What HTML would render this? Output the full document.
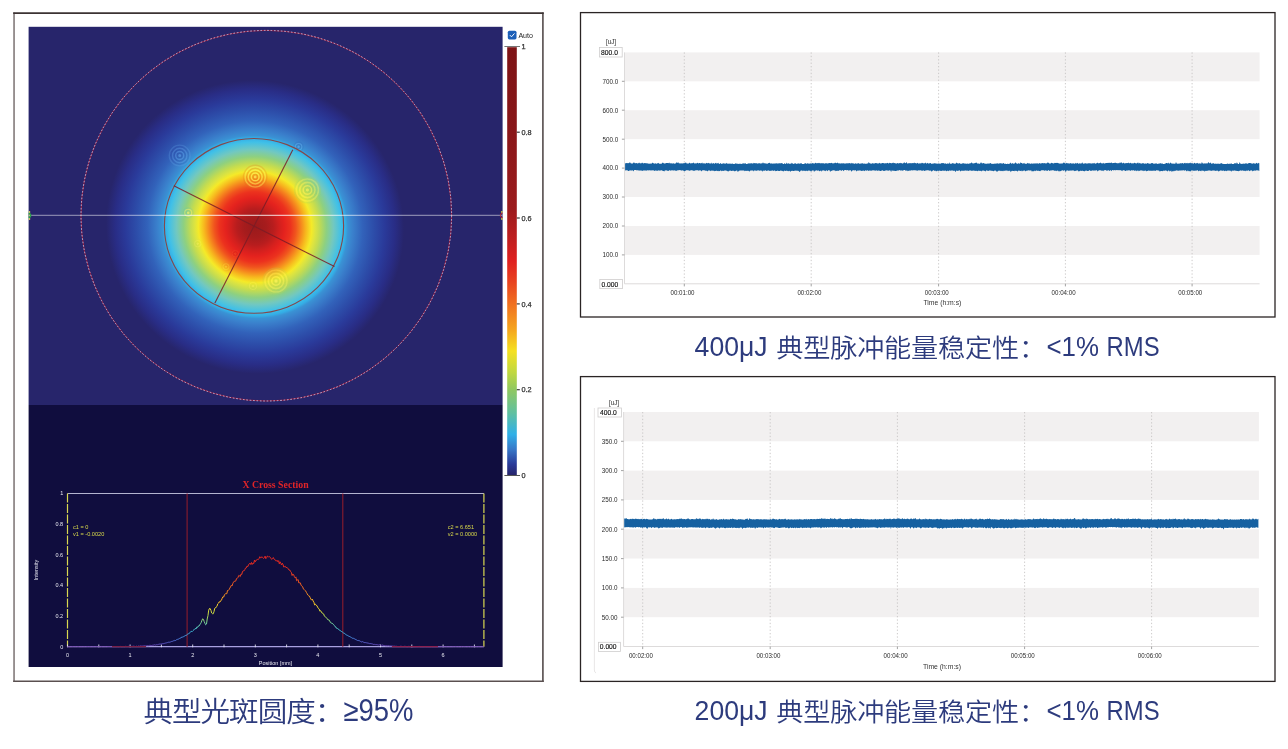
<!DOCTYPE html>
<html lang="zh"><head><meta charset="utf-8"><title>Beam profile and pulse energy stability</title>
<style>html,body{margin:0;padding:0;background:#fff;}body{width:1288px;height:749px;overflow:hidden;}svg{display:block;}text{font-family:"Liberation Sans","Noto Sans CJK SC",sans-serif;}.cap{fill:#2d3b7d;}.cjk{font-family:"Noto Sans CJK SC","Liberation Sans",sans-serif;font-weight:350;}.tk{font-size:6.3px;fill:#2a2a2a;}.tkw{font-size:5.5px;fill:#e8e8f0;}.yl{font-size:5.6px;fill:#d8d84a;}</style></head><body>
<svg width="1288" height="749" viewBox="0 0 1288 749">
<defs>
<radialGradient id="heat" gradientUnits="userSpaceOnUse" cx="255" cy="227" r="165.0" gradientTransform="translate(255 227) rotate(26.7) scale(1.025 1.0) rotate(-26.7) translate(-255 -227)">
<stop offset="0.0000" stop-color="#9a1a1c"/>
<stop offset="0.0667" stop-color="#a61c1d"/>
<stop offset="0.1091" stop-color="#b81d1e"/>
<stop offset="0.1455" stop-color="#d2201e"/>
<stop offset="0.1758" stop-color="#e4221e"/>
<stop offset="0.2121" stop-color="#ec321e"/>
<stop offset="0.2424" stop-color="#f0541e"/>
<stop offset="0.2727" stop-color="#f5841e"/>
<stop offset="0.3030" stop-color="#f7b81e"/>
<stop offset="0.3364" stop-color="#f5ea28"/>
<stop offset="0.3576" stop-color="#dde440"/>
<stop offset="0.3818" stop-color="#c4dc50"/>
<stop offset="0.4242" stop-color="#8ed080"/>
<stop offset="0.4667" stop-color="#72c8c0"/>
<stop offset="0.5121" stop-color="#40c0e8"/>
<stop offset="0.5364" stop-color="#34aee6"/>
<stop offset="0.5515" stop-color="#3a92d4"/>
<stop offset="0.5818" stop-color="#3a80cc"/>
<stop offset="0.6400" stop-color="#3262ba"/>
<stop offset="0.7030" stop-color="#2d4eaa"/>
<stop offset="0.7697" stop-color="#2a3a9a"/>
<stop offset="0.8303" stop-color="#292d86"/>
<stop offset="0.8848" stop-color="#27256b"/>
</radialGradient>
<linearGradient id="cbar" x1="0" y1="0" x2="0" y2="1">
<stop offset="0.0000" stop-color="#7d1315"/>
<stop offset="0.2000" stop-color="#891719"/>
<stop offset="0.3800" stop-color="#9c1b1d"/>
<stop offset="0.4500" stop-color="#c01f20"/>
<stop offset="0.5000" stop-color="#e02020"/>
<stop offset="0.5500" stop-color="#e84420"/>
<stop offset="0.6000" stop-color="#f07020"/>
<stop offset="0.6600" stop-color="#f5a51e"/>
<stop offset="0.7100" stop-color="#f5e020"/>
<stop offset="0.7600" stop-color="#c0d840"/>
<stop offset="0.8000" stop-color="#90c860"/>
<stop offset="0.8550" stop-color="#60c0a0"/>
<stop offset="0.9050" stop-color="#30b0e8"/>
<stop offset="0.9400" stop-color="#3878c8"/>
<stop offset="0.9750" stop-color="#2a3a98"/>
<stop offset="1.0000" stop-color="#27256b"/>
</linearGradient>
<linearGradient id="cv" gradientUnits="userSpaceOnUse" x1="0" y1="646.7" x2="0" y2="493.5">
<stop offset="0.0000" stop-color="#6a3aa0"/>
<stop offset="0.0200" stop-color="#5a50c0"/>
<stop offset="0.0500" stop-color="#4a78d8"/>
<stop offset="0.1000" stop-color="#40c0e0"/>
<stop offset="0.1500" stop-color="#70d0a0"/>
<stop offset="0.2000" stop-color="#b0d850"/>
<stop offset="0.2500" stop-color="#f0e030"/>
<stop offset="0.3200" stop-color="#f5a020"/>
<stop offset="0.4000" stop-color="#f06020"/>
<stop offset="0.5000" stop-color="#e83020"/>
<stop offset="0.6000" stop-color="#e02420"/>
<stop offset="1.0000" stop-color="#b01818"/>
</linearGradient>
<linearGradient id="hl" gradientUnits="userSpaceOnUse" x1="28.6" y1="0" x2="502.6" y2="0"><stop offset="0" stop-color="#fff" stop-opacity="0.42"/><stop offset="0.24" stop-color="#fff" stop-opacity="0.45"/><stop offset="0.36" stop-color="#fff" stop-opacity="0.68"/><stop offset="0.6" stop-color="#fff" stop-opacity="0.68"/><stop offset="0.72" stop-color="#fff" stop-opacity="0.45"/><stop offset="1" stop-color="#fff" stop-opacity="0.42"/></linearGradient>
<clipPath id="hm"><rect x="28.6" y="26.8" width="474" height="378.2"/></clipPath>
</defs>
<rect x="13.9" y="13.2" width="529.2" height="668" fill="#fff"/>
<line x1="14.05" y1="12.4" x2="14.05" y2="682" stroke="#8a8282" stroke-width="1.7"/>
<line x1="542.9" y1="12.4" x2="542.9" y2="682" stroke="#5e5656" stroke-width="1.7"/>
<line x1="13.2" y1="13.15" x2="543.75" y2="13.15" stroke="#3c3333" stroke-width="1.7"/>
<line x1="13.2" y1="681.2" x2="543.75" y2="681.2" stroke="#5a5050" stroke-width="1.5"/>
<rect x="28.6" y="26.8" width="474" height="378.2" fill="#27256b"/>
<g clip-path="url(#hm)">
<rect x="60" y="30" width="400" height="375" fill="url(#heat)"/>
<circle cx="255.2" cy="176.9" r="1.6" fill="#f08020" fill-opacity="0.8"/>
<circle cx="255.2" cy="176.9" r="0.78" fill="none" stroke="#fff05a" stroke-opacity="0.75" stroke-width="1.5"/>
<circle cx="255.2" cy="176.9" r="2.33" fill="none" stroke="#e8701a" stroke-opacity="0.42" stroke-width="1.5"/>
<circle cx="255.2" cy="176.9" r="3.88" fill="none" stroke="#fff05a" stroke-opacity="0.65" stroke-width="1.5"/>
<circle cx="255.2" cy="176.9" r="5.42" fill="none" stroke="#e8701a" stroke-opacity="0.36" stroke-width="1.5"/>
<circle cx="255.2" cy="176.9" r="6.98" fill="none" stroke="#fff05a" stroke-opacity="0.54" stroke-width="1.5"/>
<circle cx="255.2" cy="176.9" r="8.53" fill="none" stroke="#e8701a" stroke-opacity="0.30" stroke-width="1.5"/>
<circle cx="255.2" cy="176.9" r="10.08" fill="none" stroke="#fff05a" stroke-opacity="0.44" stroke-width="1.5"/>
<circle cx="255.2" cy="176.9" r="11.62" fill="none" stroke="#e8701a" stroke-opacity="0.23" stroke-width="1.5"/>
<circle cx="307.4" cy="190" r="2" fill="#a8d860" fill-opacity="0.7"/>
<circle cx="307.4" cy="190" r="0.85" fill="none" stroke="#f8f25a" stroke-opacity="0.70" stroke-width="1.6"/>
<circle cx="307.4" cy="190" r="2.55" fill="none" stroke="#a8d860" stroke-opacity="0.42" stroke-width="1.6"/>
<circle cx="307.4" cy="190" r="4.25" fill="none" stroke="#f8f25a" stroke-opacity="0.60" stroke-width="1.6"/>
<circle cx="307.4" cy="190" r="5.95" fill="none" stroke="#a8d860" stroke-opacity="0.36" stroke-width="1.6"/>
<circle cx="307.4" cy="190" r="7.65" fill="none" stroke="#f8f25a" stroke-opacity="0.51" stroke-width="1.6"/>
<circle cx="307.4" cy="190" r="9.35" fill="none" stroke="#a8d860" stroke-opacity="0.30" stroke-width="1.6"/>
<circle cx="307.4" cy="190" r="11.05" fill="none" stroke="#f8f25a" stroke-opacity="0.41" stroke-width="1.6"/>
<circle cx="307.4" cy="190" r="12.75" fill="none" stroke="#a8d860" stroke-opacity="0.23" stroke-width="1.6"/>
<circle cx="179.7" cy="155.5" r="0.80" fill="none" stroke="#6aa6ec" stroke-opacity="0.45" stroke-width="1.4"/>
<circle cx="179.7" cy="155.5" r="2.40" fill="none" stroke="#2c3c98" stroke-opacity="0.23" stroke-width="1.4"/>
<circle cx="179.7" cy="155.5" r="4.00" fill="none" stroke="#6aa6ec" stroke-opacity="0.38" stroke-width="1.4"/>
<circle cx="179.7" cy="155.5" r="5.60" fill="none" stroke="#2c3c98" stroke-opacity="0.19" stroke-width="1.4"/>
<circle cx="179.7" cy="155.5" r="7.20" fill="none" stroke="#6aa6ec" stroke-opacity="0.31" stroke-width="1.4"/>
<circle cx="179.7" cy="155.5" r="8.80" fill="none" stroke="#2c3c98" stroke-opacity="0.15" stroke-width="1.4"/>
<circle cx="179.7" cy="155.5" r="10.40" fill="none" stroke="#6aa6ec" stroke-opacity="0.24" stroke-width="1.4"/>
<circle cx="188.2" cy="212.8" r="0.70" fill="none" stroke="#f6f27a" stroke-opacity="0.60" stroke-width="1.2"/>
<circle cx="188.2" cy="212.8" r="2.10" fill="none" stroke="#50c0d0" stroke-opacity="0.26" stroke-width="1.2"/>
<circle cx="188.2" cy="212.8" r="3.50" fill="none" stroke="#f6f27a" stroke-opacity="0.43" stroke-width="1.2"/>
<circle cx="188.2" cy="212.8" r="4.90" fill="none" stroke="#50c0d0" stroke-opacity="0.18" stroke-width="1.2"/>
<circle cx="276" cy="281" r="2" fill="#e8e850" fill-opacity="0.6"/>
<circle cx="276" cy="281" r="0.85" fill="none" stroke="#faf25a" stroke-opacity="0.65" stroke-width="1.6"/>
<circle cx="276" cy="281" r="2.55" fill="none" stroke="#c0d850" stroke-opacity="0.37" stroke-width="1.6"/>
<circle cx="276" cy="281" r="4.25" fill="none" stroke="#faf25a" stroke-opacity="0.56" stroke-width="1.6"/>
<circle cx="276" cy="281" r="5.95" fill="none" stroke="#c0d850" stroke-opacity="0.32" stroke-width="1.6"/>
<circle cx="276" cy="281" r="7.65" fill="none" stroke="#faf25a" stroke-opacity="0.47" stroke-width="1.6"/>
<circle cx="276" cy="281" r="9.35" fill="none" stroke="#c0d850" stroke-opacity="0.26" stroke-width="1.6"/>
<circle cx="276" cy="281" r="11.05" fill="none" stroke="#faf25a" stroke-opacity="0.38" stroke-width="1.6"/>
<circle cx="276" cy="281" r="12.75" fill="none" stroke="#c0d850" stroke-opacity="0.21" stroke-width="1.6"/>
<circle cx="298.6" cy="146.7" r="0.65" fill="none" stroke="#78b8f4" stroke-opacity="0.45" stroke-width="1.1"/>
<circle cx="298.6" cy="146.7" r="1.95" fill="none" stroke="#2c50a8" stroke-opacity="0.22" stroke-width="1.1"/>
<circle cx="298.6" cy="146.7" r="3.25" fill="none" stroke="#78b8f4" stroke-opacity="0.33" stroke-width="1.1"/>
<circle cx="298.6" cy="146.7" r="4.55" fill="none" stroke="#2c50a8" stroke-opacity="0.15" stroke-width="1.1"/>
<circle cx="253" cy="286" r="0.70" fill="none" stroke="#f8f060" stroke-opacity="0.40" stroke-width="1.1"/>
<circle cx="253" cy="286" r="2.10" fill="none" stroke="#c8dc50" stroke-opacity="0.17" stroke-width="1.1"/>
<circle cx="253" cy="286" r="3.50" fill="none" stroke="#f8f060" stroke-opacity="0.29" stroke-width="1.1"/>
<circle cx="253" cy="286" r="4.90" fill="none" stroke="#c8dc50" stroke-opacity="0.12" stroke-width="1.1"/>
<circle cx="226" cy="266.7" r="0.60" fill="none" stroke="#f8e040" stroke-opacity="0.40" stroke-width="1"/>
<circle cx="226" cy="266.7" r="1.80" fill="none" stroke="#f08020" stroke-opacity="0.17" stroke-width="1"/>
<circle cx="226" cy="266.7" r="3.00" fill="none" stroke="#f8e040" stroke-opacity="0.29" stroke-width="1"/>
<circle cx="226" cy="266.7" r="4.20" fill="none" stroke="#f08020" stroke-opacity="0.12" stroke-width="1"/>
<circle cx="235.3" cy="253.7" r="0.65" fill="none" stroke="#f86030" stroke-opacity="0.35" stroke-width="1"/>
<circle cx="235.3" cy="253.7" r="1.95" fill="none" stroke="#c01e1e" stroke-opacity="0.16" stroke-width="1"/>
<circle cx="235.3" cy="253.7" r="3.25" fill="none" stroke="#f86030" stroke-opacity="0.22" stroke-width="1"/>
<circle cx="197.7" cy="243.7" r="0.65" fill="none" stroke="#f8f070" stroke-opacity="0.35" stroke-width="1"/>
<circle cx="197.7" cy="243.7" r="1.95" fill="none" stroke="#c8dc50" stroke-opacity="0.17" stroke-width="1"/>
<circle cx="197.7" cy="243.7" r="3.25" fill="none" stroke="#f8f070" stroke-opacity="0.25" stroke-width="1"/>
<circle cx="197.7" cy="243.7" r="4.55" fill="none" stroke="#c8dc50" stroke-opacity="0.12" stroke-width="1"/>
<circle cx="266.3" cy="215.7" r="185.3" fill="none" stroke="#a01a3a" stroke-width="1" stroke-opacity="0.9"/>
<circle cx="266.3" cy="215.7" r="185.3" fill="none" stroke="#c4ccf0" stroke-width="1" stroke-opacity="0.85" stroke-dasharray="1.6 1.8"/>
<ellipse cx="254" cy="225.9" rx="89.6" ry="87.4" fill="none" stroke="#84484c" stroke-width="1.1"/>
<line x1="292.8" y1="149.7" x2="214.9" y2="303" stroke="#7a1c26" stroke-opacity="0.85" stroke-width="1.1"/>
<line x1="173.8" y1="185.8" x2="334.5" y2="266.6" stroke="#7a1c26" stroke-opacity="0.85" stroke-width="1.1"/>
<line x1="28.6" y1="215.4" x2="502.6" y2="215.4" stroke="url(#hl)" stroke-width="1.2"/>
<circle cx="29.3" cy="211.9" r="1" fill="#d8d060"/>
<circle cx="29.3" cy="218.9" r="1" fill="#d8d060"/>
<circle cx="28.6" cy="215.4" r="2.7" fill="#2aa04a"/>
<circle cx="29" cy="215.4" r="0.9" fill="#f0b0a0"/>
<circle cx="502" cy="211.9" r="0.9" fill="#f0e840"/>
<circle cx="502" cy="218.9" r="0.9" fill="#f0e840"/>
<circle cx="502.8" cy="215.4" r="2.4" fill="none" stroke="#c02030" stroke-width="1"/>
</g>
<rect x="28.6" y="405" width="474" height="262" fill="#100d3e"/>
<rect x="507.8" y="30.7" width="8.7" height="8.7" rx="1.6" fill="#1c5fb8"/>
<path d="M509.9 35.1 L511.5 36.8 L514.5 33.4" fill="none" stroke="#fff" stroke-width="0.95"/>
<text x="518.4" y="38.1" font-size="7.1px" fill="#222">Auto</text>
<rect x="507.2" y="47.2" width="9.6" height="427.8" fill="url(#cbar)"/>
<line x1="504.4" y1="46.5" x2="520" y2="46.5" stroke="#777" stroke-width="1"/>
<line x1="504.4" y1="475.5" x2="520" y2="475.5" stroke="#555" stroke-width="1"/>
<text x="521.4" y="49.1" font-size="7.3px" fill="#333" stroke="#333" stroke-width="0.25">1</text>
<line x1="516.8" y1="132.2" x2="519.8" y2="132.2" stroke="#3a3a3a" stroke-width="1.2"/>
<text x="521.4" y="134.9" font-size="7.3px" fill="#333" stroke="#333" stroke-width="0.25">0.8</text>
<line x1="516.8" y1="218.0" x2="519.8" y2="218.0" stroke="#3a3a3a" stroke-width="1.2"/>
<text x="521.4" y="220.7" font-size="7.3px" fill="#333" stroke="#333" stroke-width="0.25">0.6</text>
<line x1="516.8" y1="303.9" x2="519.8" y2="303.9" stroke="#3a3a3a" stroke-width="1.2"/>
<text x="521.4" y="306.6" font-size="7.3px" fill="#333" stroke="#333" stroke-width="0.25">0.4</text>
<line x1="516.8" y1="389.7" x2="519.8" y2="389.7" stroke="#3a3a3a" stroke-width="1.2"/>
<text x="521.4" y="392.4" font-size="7.3px" fill="#333" stroke="#333" stroke-width="0.25">0.2</text>
<text x="521.4" y="478.2" font-size="7.3px" fill="#333" stroke="#333" stroke-width="0.25">0</text>
<text x="275.5" y="488" text-anchor="middle" font-family="'Liberation Serif',serif" style="font-family:'Liberation Serif',serif" font-weight="bold" font-size="9.8px" fill="#e02428">X Cross Section</text>
<line x1="67.5" y1="493.5" x2="483.9" y2="493.5" stroke="#b4b4d0" stroke-width="1"/>
<line x1="67.5" y1="646.7" x2="483.9" y2="646.7" stroke="#a8a0e0" stroke-width="1.3"/>
<line x1="67.5" y1="493.5" x2="67.5" y2="646.7" stroke="#d8d850" stroke-width="1.2" stroke-dasharray="9 1.5"/>
<line x1="483.9" y1="493.5" x2="483.9" y2="646.7" stroke="#d8d850" stroke-width="1.2" stroke-dasharray="9 1.5"/>
<line x1="67.5" y1="644.5" x2="67.5" y2="647.3000000000001" stroke="#e0e0f0" stroke-width="0.9"/>
<text class="tkw" x="67.5" y="656.9" text-anchor="middle">0</text>
<line x1="98.8" y1="644.5" x2="98.8" y2="647.3000000000001" stroke="#e0e0f0" stroke-width="0.9"/>
<line x1="130.1" y1="644.5" x2="130.1" y2="647.3000000000001" stroke="#e0e0f0" stroke-width="0.9"/>
<text class="tkw" x="130.1" y="656.9" text-anchor="middle">1</text>
<line x1="161.4" y1="644.5" x2="161.4" y2="647.3000000000001" stroke="#e0e0f0" stroke-width="0.9"/>
<line x1="192.7" y1="644.5" x2="192.7" y2="647.3000000000001" stroke="#e0e0f0" stroke-width="0.9"/>
<text class="tkw" x="192.7" y="656.9" text-anchor="middle">2</text>
<line x1="224.0" y1="644.5" x2="224.0" y2="647.3000000000001" stroke="#e0e0f0" stroke-width="0.9"/>
<line x1="255.3" y1="644.5" x2="255.3" y2="647.3000000000001" stroke="#e0e0f0" stroke-width="0.9"/>
<text class="tkw" x="255.3" y="656.9" text-anchor="middle">3</text>
<line x1="286.6" y1="644.5" x2="286.6" y2="647.3000000000001" stroke="#e0e0f0" stroke-width="0.9"/>
<line x1="317.9" y1="644.5" x2="317.9" y2="647.3000000000001" stroke="#e0e0f0" stroke-width="0.9"/>
<text class="tkw" x="317.9" y="656.9" text-anchor="middle">4</text>
<line x1="349.2" y1="644.5" x2="349.2" y2="647.3000000000001" stroke="#e0e0f0" stroke-width="0.9"/>
<line x1="380.5" y1="644.5" x2="380.5" y2="647.3000000000001" stroke="#e0e0f0" stroke-width="0.9"/>
<text class="tkw" x="380.5" y="656.9" text-anchor="middle">5</text>
<line x1="411.8" y1="644.5" x2="411.8" y2="647.3000000000001" stroke="#e0e0f0" stroke-width="0.9"/>
<line x1="443.1" y1="644.5" x2="443.1" y2="647.3000000000001" stroke="#e0e0f0" stroke-width="0.9"/>
<text class="tkw" x="443.1" y="656.9" text-anchor="middle">6</text>
<line x1="474.4" y1="644.5" x2="474.4" y2="647.3000000000001" stroke="#e0e0f0" stroke-width="0.9"/>
<text class="tkw" x="63.2" y="648.6" text-anchor="end">0</text>
<text class="tkw" x="63.2" y="618.0" text-anchor="end">0.2</text>
<text class="tkw" x="63.2" y="587.3" text-anchor="end">0.4</text>
<text class="tkw" x="63.2" y="556.7" text-anchor="end">0.6</text>
<text class="tkw" x="63.2" y="526.0" text-anchor="end">0.8</text>
<text class="tkw" x="63.2" y="495.4" text-anchor="end">1</text>
<text class="tkw" x="275.5" y="664.5" text-anchor="middle">Position [mm]</text>
<text class="tkw" transform="translate(37.5,570) rotate(-90)" text-anchor="middle">Intensity</text>
<line x1="187.1" y1="493.5" x2="187.1" y2="646.7" stroke="#8c1c2c" stroke-width="1.1"/>
<line x1="342.8" y1="493.5" x2="342.8" y2="646.7" stroke="#8c1c2c" stroke-width="1.1"/>
<text class="yl" x="73" y="528.8">c1 = 0</text>
<text class="yl" x="73" y="535.6">v1 = -0.0020</text>
<text class="yl" x="447.8" y="528.8">c2 = 6.651</text>
<text class="yl" x="447.8" y="535.6">v2 = 0.0000</text>
<path d="M67.5 646.7 L68.3 646.6 L69.0 646.7 L69.8 646.7 L70.5 646.7 L71.3 646.7 L72.0 646.6 L72.8 646.6 L73.5 646.6 L74.3 646.7 L75.0 646.6 L75.8 646.7 L76.5 646.7 L77.3 646.6 L78.0 646.6 L78.8 646.6 L79.5 646.7 L80.3 646.7 L81.0 646.7 L81.8 646.7 L82.5 646.7 L83.3 646.7 L84.0 646.6 L84.8 646.7 L85.5 646.7 L86.3 646.6 L87.0 646.7 L87.8 646.5 L88.5 646.6 L89.3 646.5 L90.0 646.7 L90.8 646.7 L91.5 646.7 L92.3 646.7 L93.0 646.6 L93.8 646.7 L94.5 646.7 L95.3 646.7 L96.0 646.7 L96.8 646.5 L97.5 646.7 L98.3 646.7 L99.1 646.6 L99.8 646.7 L100.6 646.7 L101.3 646.5 L102.1 646.7 L102.8 646.7 L103.6 646.7 L104.3 646.7 L105.1 646.6 L105.8 646.7 L106.6 646.7 L107.3 646.6 L108.1 646.6 L108.8 646.5 L109.6 646.5 L110.3 646.6 L111.1 646.6 L111.8 646.7 L112.6 646.6 L113.3 646.7 L114.1 646.7 L114.8 646.7 L115.6 646.7 L116.3 646.7 L117.1 646.5 L117.8 646.7 L118.6 646.7 L119.3 646.6 L120.1 646.4 L120.8 646.5 L121.6 646.7 L122.3 646.7 L123.1 646.5 L123.8 646.7 L124.6 646.7 L125.3 646.4 L126.1 646.4 L126.8 646.5 L127.6 646.5 L128.3 646.4 L129.1 646.3 L129.8 646.4 L130.6 646.4 L131.4 646.4 L132.1 646.6 L132.9 646.2 L133.6 646.2 L134.4 646.3 L135.1 646.6 L135.9 646.4 L136.6 646.2 L137.4 646.5 L138.1 646.2 L138.9 646.0 L139.6 646.3 L140.4 645.9 L141.1 646.0 L141.9 646.1 L142.6 646.0 L143.4 645.9 L144.1 645.9 L144.9 645.7 L145.6 645.9 L146.4 645.8 L147.1 645.6 L147.9 645.7 L148.6 645.7 L149.4 645.4 L150.1 645.3 L150.9 645.5 L151.6 645.5 L152.4 645.3 L153.1 645.2 L153.9 645.1 L154.6 644.8 L155.4 645.1 L156.1 644.6 L156.9 644.9 L157.6 644.7 L158.4 644.4 L159.1 644.2 L159.9 644.1 L160.6 644.1 L161.4 644.0 L162.2 643.8 L162.9 643.6 L163.7 643.6 L164.4 643.4 L165.2 643.1 L165.9 643.1 L166.7 642.8 L167.4 642.6 L168.2 642.2 L168.9 642.3 L169.7 642.2 L170.4 642.0 L171.2 641.7 L171.9 641.3 L172.7 641.3 L173.4 640.9 L174.2 640.3 L174.9 640.9 L175.7 640.4 L176.4 639.8 L177.2 639.5 L177.9 639.2 L178.7 639.0 L179.4 638.5 L180.2 638.2 L180.9 638.0 L181.7 637.0 L182.4 637.1 L183.2 636.9 L183.9 636.4 L184.7 636.0 L185.4 635.5 L186.2 635.7 L186.9 634.8 L187.7 633.9 L188.4 634.0 L189.2 633.2 L189.9 632.5 L190.7 632.0 L191.4 631.3 L192.2 631.6 L193.0 630.7 L193.7 630.1 L194.5 629.2 L195.2 628.5 L196.0 629.0 L196.7 627.2 L197.5 627.4 L198.2 626.1 L199.0 626.1 L199.7 624.9 L200.5 623.7 L201.2 622.5 L202.0 620.2 L202.7 618.8 L203.5 619.5 L204.2 621.6 L205.0 623.4 L205.7 624.8 L206.5 624.0 L207.2 619.0 L208.0 615.5 L208.7 610.2 L209.5 608.5 L210.2 608.6 L211.0 610.5 L211.7 613.0 L212.5 613.7 L213.2 613.8 L214.0 611.6 L214.7 608.4 L215.5 607.9 L216.2 607.0 L217.0 606.3 L217.7 603.9 L218.5 603.2 L219.2 601.8 L220.0 602.1 L220.7 600.6 L221.5 600.2 L222.2 598.1 L223.0 596.6 L223.7 597.1 L224.5 594.6 L225.3 593.9 L226.0 593.6 L226.8 593.7 L227.5 590.5 L228.3 590.4 L229.0 589.7 L229.8 588.1 L230.5 587.0 L231.3 585.3 L232.0 586.0 L232.8 583.5 L233.5 582.2 L234.3 581.2 L235.0 581.4 L235.8 580.9 L236.5 578.6 L237.3 578.3 L238.0 577.4 L238.8 575.4 L239.5 575.8 L240.3 576.5 L241.0 574.1 L241.8 574.4 L242.5 571.4 L243.3 570.9 L244.0 570.9 L244.8 569.6 L245.5 568.1 L246.3 567.9 L247.0 566.1 L247.8 566.6 L248.5 564.9 L249.3 563.8 L250.0 563.1 L250.8 564.5 L251.5 562.5 L252.3 564.4 L253.0 563.1 L253.8 563.4 L254.5 560.1 L255.3 561.8 L256.1 560.2 L256.8 559.9 L257.6 559.4 L258.3 559.6 L259.1 558.4 L259.8 556.7 L260.6 558.1 L261.3 557.4 L262.1 556.7 L262.8 557.7 L263.6 558.5 L264.3 557.8 L265.1 556.1 L265.8 558.7 L266.6 557.7 L267.3 556.1 L268.1 556.4 L268.8 557.2 L269.6 556.6 L270.3 557.3 L271.1 558.8 L271.8 559.4 L272.6 558.7 L273.3 557.5 L274.1 559.2 L274.8 559.8 L275.6 560.1 L276.3 561.2 L277.1 560.3 L277.8 561.7 L278.6 560.7 L279.3 563.8 L280.1 561.8 L280.8 563.3 L281.6 565.0 L282.3 563.2 L283.1 564.7 L283.8 567.1 L284.6 566.6 L285.3 566.3 L286.1 567.7 L286.9 567.3 L287.6 568.1 L288.4 569.0 L289.1 570.1 L289.9 570.1 L290.6 571.5 L291.4 572.5 L292.1 575.5 L292.9 574.0 L293.6 574.6 L294.4 576.7 L295.1 577.8 L295.9 576.9 L296.6 580.7 L297.4 580.0 L298.1 579.5 L298.9 583.0 L299.6 582.8 L300.4 582.9 L301.1 585.4 L301.9 585.9 L302.6 586.7 L303.4 588.9 L304.1 589.4 L304.9 590.2 L305.6 590.9 L306.4 592.4 L307.1 593.6 L307.9 595.1 L308.6 595.7 L309.4 596.0 L310.1 597.5 L310.9 599.1 L311.6 600.1 L312.4 599.1 L313.1 601.0 L313.9 602.2 L314.6 604.9 L315.4 604.2 L316.1 605.3 L316.9 605.6 L317.6 607.2 L318.4 608.4 L319.2 609.1 L319.9 611.2 L320.7 610.7 L321.4 611.9 L322.2 613.3 L322.9 613.3 L323.7 614.0 L324.4 616.2 L325.2 616.7 L325.9 617.2 L326.7 618.0 L327.4 619.1 L328.2 620.1 L328.9 619.7 L329.7 620.9 L330.4 622.5 L331.2 623.2 L331.9 622.9 L332.7 623.9 L333.4 624.3 L334.2 625.3 L334.9 626.5 L335.7 626.8 L336.4 628.2 L337.2 628.4 L337.9 628.8 L338.7 629.3 L339.4 630.2 L340.2 630.6 L340.9 631.0 L341.7 631.6 L342.4 632.0 L343.2 632.7 L343.9 633.3 L344.7 633.5 L345.4 634.2 L346.2 634.8 L346.9 635.2 L347.7 635.5 L348.4 636.0 L349.2 636.3 L350.0 636.8 L350.7 637.1 L351.5 637.6 L352.2 638.2 L353.0 638.2 L353.7 638.4 L354.5 638.8 L355.2 639.3 L356.0 639.5 L356.7 640.0 L357.5 640.5 L358.2 640.4 L359.0 640.9 L359.7 640.8 L360.5 641.4 L361.2 641.9 L362.0 641.9 L362.7 641.6 L363.5 642.2 L364.2 642.5 L365.0 642.6 L365.7 642.6 L366.5 642.8 L367.2 643.0 L368.0 643.0 L368.7 643.3 L369.5 643.6 L370.2 643.6 L371.0 643.6 L371.7 643.8 L372.5 644.0 L373.2 644.4 L374.0 644.4 L374.7 644.4 L375.5 644.6 L376.2 644.6 L377.0 644.7 L377.7 644.8 L378.5 645.0 L379.2 644.7 L380.0 645.0 L380.8 645.3 L381.5 645.3 L382.3 645.0 L383.0 645.5 L383.8 645.4 L384.5 645.5 L385.3 645.7 L386.0 645.9 L386.8 645.7 L387.5 645.8 L388.3 645.7 L389.0 645.8 L389.8 646.0 L390.5 645.9 L391.3 646.0 L392.0 646.1 L392.8 646.1 L393.5 646.2 L394.3 646.1 L395.0 646.4 L395.8 646.3 L396.5 646.3 L397.3 646.5 L398.0 646.4 L398.8 646.6 L399.5 646.5 L400.3 646.3 L401.0 646.3 L401.8 646.4 L402.5 646.5 L403.3 646.6 L404.0 646.2 L404.8 646.4 L405.5 646.4 L406.3 646.6 L407.0 646.6 L407.8 646.7 L408.5 646.4 L409.3 646.4 L410.0 646.7 L410.8 646.6 L411.5 646.5 L412.3 646.7 L413.1 646.7 L413.8 646.7 L414.6 646.7 L415.3 646.7 L416.1 646.6 L416.8 646.6 L417.6 646.6 L418.3 646.5 L419.1 646.4 L419.8 646.5 L420.6 646.7 L421.3 646.7 L422.1 646.7 L422.8 646.7 L423.6 646.7 L424.3 646.7 L425.1 646.6 L425.8 646.7 L426.6 646.7 L427.3 646.7 L428.1 646.7 L428.8 646.7 L429.6 646.7 L430.3 646.7 L431.1 646.6 L431.8 646.6 L432.6 646.7 L433.3 646.7 L434.1 646.7 L434.8 646.7 L435.6 646.7 L436.3 646.7 L437.1 646.7 L437.8 646.7 L438.6 646.7 L439.3 646.7 L440.1 646.7 L440.8 646.7 L441.6 646.6 L442.3 646.6 L443.1 646.7 L443.9 646.7 L444.6 646.7 L445.4 646.7 L446.1 646.6 L446.9 646.7 L447.6 646.7 L448.4 646.7 L449.1 646.7 L449.9 646.7 L450.6 646.7 L451.4 646.7 L452.1 646.7 L452.9 646.7 L453.6 646.6 L454.4 646.7 L455.1 646.4 L455.9 646.7 L456.6 646.6 L457.4 646.7 L458.1 646.6 L458.9 646.7 L459.6 646.7 L460.4 646.7 L461.1 646.6 L461.9 646.4 L462.6 646.7 L463.4 646.5 L464.1 646.6 L464.9 646.6 L465.6 646.6 L466.4 646.7 L467.1 646.6 L467.9 646.7 L468.6 646.5 L469.4 646.7 L470.1 646.7 L470.9 646.4 L471.6 646.7 L472.4 646.7 L473.1 646.6 L473.9 646.7 L474.7 646.7 L475.4 646.7 L476.2 646.6 L476.9 646.6 L477.7 646.7 L478.4 646.5 L479.2 646.5 L479.9 646.7 L480.7 646.7 L481.4 646.7 L482.2 646.5 L482.9 646.7 L483.7 646.6" fill="none" stroke="url(#cv)" stroke-width="1" stroke-linejoin="round"/>
<line x1="112" y1="646.7" x2="146" y2="646.7" stroke="#7a2048" stroke-width="1.2"/>
<line x1="392" y1="646.7" x2="438" y2="646.7" stroke="#8a2050" stroke-width="1.2"/>
<text class="cap cjk" transform="translate(0,721.6) scale(1,0.945)" x="143.4" y="0" font-size="29.6px" textLength="201" lengthAdjust="spacing">典型光斑圆度：</text>
<text class="cap" x="343.4" y="720.6" font-size="31.2px" textLength="70" lengthAdjust="spacingAndGlyphs">≥95%</text>
<text class="cap" x="694.6" y="356.0" font-size="28.2px" textLength="73" lengthAdjust="spacingAndGlyphs">400μJ</text>
<text class="cap cjk" transform="translate(0,357.2) scale(1,0.94)" x="776.2" y="0" font-size="27.2px" textLength="270" lengthAdjust="spacing">典型脉冲能量稳定性：</text>
<text class="cap" x="1046.4" y="356.0" font-size="28.2px" textLength="52.5" lengthAdjust="spacingAndGlyphs">&lt;1%</text>
<text class="cap" x="1106.6" y="356.0" font-size="28.2px" textLength="53" lengthAdjust="spacingAndGlyphs">RMS</text>
<text class="cap" x="694.6" y="719.8" font-size="28.2px" textLength="73" lengthAdjust="spacingAndGlyphs">200μJ</text>
<text class="cap cjk" transform="translate(0,721.0) scale(1,0.94)" x="776.2" y="0" font-size="27.2px" textLength="270" lengthAdjust="spacing">典型脉冲能量稳定性：</text>
<text class="cap" x="1046.4" y="719.8" font-size="28.2px" textLength="52.5" lengthAdjust="spacingAndGlyphs">&lt;1%</text>
<text class="cap" x="1106.6" y="719.8" font-size="28.2px" textLength="53" lengthAdjust="spacingAndGlyphs">RMS</text>
<rect x="580.5" y="12.6" width="694.5" height="304.4" fill="#fff" stroke="#2a2424" stroke-width="1.3"/>
<rect x="624.5" y="52.40" width="635.0999999999999" height="28.93" fill="#f2f0f0"/>
<rect x="624.5" y="110.25" width="635.0999999999999" height="28.93" fill="#f2f0f0"/>
<rect x="624.5" y="168.10" width="635.0999999999999" height="28.93" fill="#f2f0f0"/>
<rect x="624.5" y="225.95" width="635.0999999999999" height="28.93" fill="#f2f0f0"/>
<line x1="624.5" y1="52.4" x2="624.5" y2="283.8" stroke="#dddbdb" stroke-width="1"/>
<line x1="624.5" y1="283.8" x2="1259.6" y2="283.8" stroke="#dddbdb" stroke-width="1"/>
<line x1="684.3" y1="52.4" x2="684.3" y2="283.8" stroke="#c6c4c4" stroke-width="0.9" stroke-dasharray="1.3 2.1"/>
<line x1="684.3" y1="283.8" x2="684.3" y2="286.40000000000003" stroke="#999" stroke-width="0.9"/>
<line x1="811.2" y1="52.4" x2="811.2" y2="283.8" stroke="#c6c4c4" stroke-width="0.9" stroke-dasharray="1.3 2.1"/>
<line x1="811.2" y1="283.8" x2="811.2" y2="286.40000000000003" stroke="#999" stroke-width="0.9"/>
<line x1="938.6" y1="52.4" x2="938.6" y2="283.8" stroke="#c6c4c4" stroke-width="0.9" stroke-dasharray="1.3 2.1"/>
<line x1="938.6" y1="283.8" x2="938.6" y2="286.40000000000003" stroke="#999" stroke-width="0.9"/>
<line x1="1065.4" y1="52.4" x2="1065.4" y2="283.8" stroke="#c6c4c4" stroke-width="0.9" stroke-dasharray="1.3 2.1"/>
<line x1="1065.4" y1="283.8" x2="1065.4" y2="286.40000000000003" stroke="#999" stroke-width="0.9"/>
<line x1="1192.1" y1="52.4" x2="1192.1" y2="283.8" stroke="#c6c4c4" stroke-width="0.9" stroke-dasharray="1.3 2.1"/>
<line x1="1192.1" y1="283.8" x2="1192.1" y2="286.40000000000003" stroke="#999" stroke-width="0.9"/>
<text class="tk" x="682.5" y="294.8" text-anchor="middle" textLength="24" lengthAdjust="spacingAndGlyphs" style="font-size:6.6px">00:01:00</text>
<text class="tk" x="809.4" y="294.8" text-anchor="middle" textLength="24" lengthAdjust="spacingAndGlyphs" style="font-size:6.6px">00:02:00</text>
<text class="tk" x="936.8" y="294.8" text-anchor="middle" textLength="24" lengthAdjust="spacingAndGlyphs" style="font-size:6.6px">00:03:00</text>
<text class="tk" x="1063.6" y="294.8" text-anchor="middle" textLength="24" lengthAdjust="spacingAndGlyphs" style="font-size:6.6px">00:04:00</text>
<text class="tk" x="1190.3" y="294.8" text-anchor="middle" textLength="24" lengthAdjust="spacingAndGlyphs" style="font-size:6.6px">00:05:00</text>
<line x1="621.9" y1="81.3" x2="624.5" y2="81.3" stroke="#999" stroke-width="0.9"/>
<text class="tk" x="618.3" y="83.6" text-anchor="end">700.0</text>
<line x1="621.9" y1="110.2" x2="624.5" y2="110.2" stroke="#999" stroke-width="0.9"/>
<text class="tk" x="618.3" y="112.5" text-anchor="end">600.0</text>
<line x1="621.9" y1="139.2" x2="624.5" y2="139.2" stroke="#999" stroke-width="0.9"/>
<text class="tk" x="618.3" y="141.5" text-anchor="end">500.0</text>
<line x1="621.9" y1="168.1" x2="624.5" y2="168.1" stroke="#999" stroke-width="0.9"/>
<text class="tk" x="618.3" y="170.4" text-anchor="end">400.0</text>
<line x1="621.9" y1="197.0" x2="624.5" y2="197.0" stroke="#999" stroke-width="0.9"/>
<text class="tk" x="618.3" y="199.3" text-anchor="end">300.0</text>
<line x1="621.9" y1="226.0" x2="624.5" y2="226.0" stroke="#999" stroke-width="0.9"/>
<text class="tk" x="618.3" y="228.3" text-anchor="end">200.0</text>
<line x1="621.9" y1="254.9" x2="624.5" y2="254.9" stroke="#999" stroke-width="0.9"/>
<text class="tk" x="618.3" y="257.2" text-anchor="end">100.0</text>
<rect x="599.4" y="47.4" width="22.800000000000068" height="9.600000000000001" fill="#fff" stroke="#cfcdcd" stroke-width="0.8"/>
<text x="609.5" y="54.7" text-anchor="middle" font-size="7.1px" textLength="16.8" lengthAdjust="spacingAndGlyphs" fill="#111" stroke="#111" stroke-width="0.15">800.0</text>
<rect x="599.8" y="279.5" width="22.700000000000045" height="9.100000000000023" fill="#fff" stroke="#cfcdcd" stroke-width="0.8"/>
<text x="609.9" y="286.6" text-anchor="middle" font-size="7.1px" textLength="16.8" lengthAdjust="spacingAndGlyphs" fill="#111" stroke="#111" stroke-width="0.15">0.000</text>
<text class="tk" x="611" y="43.6" text-anchor="middle">[uJ]</text>
<text x="942.4" y="305.4" text-anchor="middle" font-size="6.8px" fill="#333">Time (h:m:s)</text>
<path d="M625.1 163.26 L625.8 163.13 L626.5 163.08 L627.2 163.14 L627.9 162.88 L628.6 163.23 L629.3 162.87 L630.0 162.35 L630.7 163.20 L631.4 163.47 L632.1 163.50 L632.8 163.38 L633.5 162.43 L634.2 162.56 L634.9 163.37 L635.6 163.18 L636.3 163.05 L637.0 163.27 L637.7 163.58 L638.4 163.35 L639.1 162.59 L639.8 163.19 L640.5 163.55 L641.2 162.72 L641.9 163.49 L642.6 162.60 L643.3 163.52 L644.0 163.33 L644.7 162.94 L645.4 163.14 L646.1 163.01 L646.8 163.55 L647.5 163.34 L648.2 163.66 L648.9 163.57 L649.6 163.63 L650.3 163.45 L651.0 163.78 L651.7 163.43 L652.4 162.50 L653.1 163.24 L653.8 163.37 L654.5 163.67 L655.2 163.13 L655.9 163.61 L656.6 163.68 L657.3 163.47 L658.0 162.72 L658.7 163.32 L659.4 163.75 L660.1 163.64 L660.8 163.71 L661.5 163.78 L662.2 162.90 L662.9 162.44 L663.6 163.34 L664.3 163.41 L665.0 163.58 L665.7 163.21 L666.4 162.88 L667.1 163.04 L667.8 163.04 L668.5 163.36 L669.2 162.39 L669.9 163.53 L670.6 163.17 L671.3 163.18 L672.0 163.50 L672.7 163.51 L673.4 163.31 L674.1 163.49 L674.8 163.69 L675.5 163.39 L676.2 162.67 L676.9 162.32 L677.6 162.89 L678.3 162.37 L679.0 163.41 L679.7 163.26 L680.4 163.58 L681.1 163.22 L681.8 163.59 L682.5 163.40 L683.2 163.11 L683.9 163.50 L684.6 163.08 L685.3 162.79 L686.0 162.61 L686.7 163.55 L687.4 163.50 L688.1 163.61 L688.8 163.50 L689.5 162.62 L690.2 163.53 L690.9 163.19 L691.6 163.25 L692.3 163.32 L693.0 163.01 L693.7 162.48 L694.4 163.39 L695.1 163.41 L695.8 163.36 L696.5 163.61 L697.2 162.73 L697.9 163.11 L698.6 163.58 L699.3 162.98 L700.0 163.05 L700.7 163.61 L701.4 162.71 L702.1 163.65 L702.8 162.50 L703.5 163.42 L704.2 163.47 L704.9 163.35 L705.6 163.70 L706.3 162.73 L707.0 163.35 L707.7 163.31 L708.4 162.76 L709.1 163.42 L709.8 163.13 L710.5 163.69 L711.2 162.51 L711.9 163.85 L712.6 163.62 L713.3 163.11 L714.0 163.60 L714.7 163.73 L715.4 162.97 L716.1 162.86 L716.8 163.71 L717.5 163.33 L718.2 162.79 L718.9 163.76 L719.6 163.89 L720.3 163.08 L721.0 163.58 L721.7 163.96 L722.4 163.50 L723.1 163.79 L723.8 163.04 L724.5 163.85 L725.2 163.26 L725.9 163.99 L726.6 162.73 L727.3 163.72 L728.0 163.44 L728.7 163.86 L729.4 163.72 L730.1 163.32 L730.8 163.92 L731.5 163.81 L732.2 163.43 L732.9 163.78 L733.6 163.93 L734.3 163.96 L735.0 163.82 L735.7 163.35 L736.4 163.50 L737.1 163.98 L737.8 163.51 L738.5 164.00 L739.2 163.65 L739.9 163.72 L740.6 163.70 L741.3 163.99 L742.0 163.65 L742.7 163.61 L743.4 163.14 L744.1 163.79 L744.8 163.20 L745.5 163.23 L746.2 163.88 L746.9 163.92 L747.6 163.75 L748.3 163.51 L749.0 163.23 L749.7 163.54 L750.4 163.62 L751.1 163.06 L751.8 163.53 L752.5 163.45 L753.2 163.60 L753.9 162.80 L754.6 163.30 L755.3 163.31 L756.0 163.22 L756.7 163.24 L757.4 163.50 L758.1 163.63 L758.8 162.97 L759.5 163.34 L760.2 163.47 L760.9 163.50 L761.6 163.41 L762.3 162.52 L763.0 163.70 L763.7 162.52 L764.4 163.49 L765.1 163.00 L765.8 163.68 L766.5 163.52 L767.2 163.65 L767.9 163.40 L768.6 162.91 L769.3 162.84 L770.0 163.12 L770.7 163.68 L771.4 163.20 L772.1 163.74 L772.8 163.39 L773.5 163.55 L774.2 163.83 L774.9 163.26 L775.6 163.42 L776.3 163.50 L777.0 163.07 L777.7 163.64 L778.4 163.57 L779.1 162.92 L779.8 163.43 L780.5 163.31 L781.2 163.28 L781.9 162.99 L782.6 163.44 L783.3 163.91 L784.0 163.90 L784.7 163.05 L785.4 163.91 L786.1 163.83 L786.8 162.61 L787.5 163.89 L788.2 163.06 L788.9 163.84 L789.6 163.67 L790.3 163.50 L791.0 163.94 L791.7 162.86 L792.4 163.29 L793.1 163.96 L793.8 163.66 L794.5 163.61 L795.2 163.32 L795.9 163.49 L796.6 163.88 L797.3 163.58 L798.0 163.85 L798.7 163.36 L799.4 163.77 L800.1 163.44 L800.8 163.29 L801.5 163.18 L802.2 163.91 L802.9 163.93 L803.6 163.88 L804.3 163.81 L805.0 163.26 L805.7 163.35 L806.4 163.75 L807.1 163.73 L807.8 162.98 L808.5 163.65 L809.2 163.41 L809.9 163.63 L810.6 163.19 L811.3 163.74 L812.0 162.93 L812.7 163.31 L813.4 163.16 L814.1 163.80 L814.8 163.29 L815.5 162.78 L816.2 162.99 L816.9 163.59 L817.6 162.90 L818.3 163.24 L819.0 162.83 L819.7 163.21 L820.4 163.16 L821.1 163.60 L821.8 162.92 L822.5 163.31 L823.2 163.49 L823.9 163.05 L824.6 163.64 L825.3 163.59 L826.0 162.84 L826.7 163.53 L827.4 163.53 L828.1 163.27 L828.8 163.29 L829.5 162.89 L830.2 163.11 L830.9 163.23 L831.6 162.63 L832.3 163.30 L833.0 163.56 L833.7 163.27 L834.4 163.31 L835.1 162.41 L835.8 162.92 L836.5 163.28 L837.2 162.71 L837.9 162.84 L838.6 163.42 L839.3 163.35 L840.0 163.47 L840.7 163.41 L841.4 163.29 L842.1 163.43 L842.8 163.25 L843.5 163.22 L844.2 163.58 L844.9 163.48 L845.6 163.59 L846.3 163.59 L847.0 163.08 L847.7 163.50 L848.4 163.28 L849.1 163.23 L849.8 163.09 L850.5 163.46 L851.2 163.48 L851.9 162.75 L852.6 163.51 L853.3 163.23 L854.0 163.66 L854.7 163.67 L855.4 163.35 L856.1 163.52 L856.8 163.70 L857.5 163.54 L858.2 162.89 L858.9 163.40 L859.6 163.63 L860.3 163.59 L861.0 163.76 L861.7 163.21 L862.4 163.37 L863.1 163.57 L863.8 163.69 L864.5 163.44 L865.2 163.67 L865.9 163.64 L866.6 163.63 L867.3 163.29 L868.0 163.80 L868.7 161.88 L869.4 163.04 L870.1 163.40 L870.8 163.51 L871.5 163.66 L872.2 163.29 L872.9 163.18 L873.6 163.59 L874.3 163.39 L875.0 163.15 L875.7 162.96 L876.4 163.37 L877.1 163.12 L877.8 163.73 L878.5 163.54 L879.2 162.85 L879.9 163.32 L880.6 163.41 L881.3 163.51 L882.0 163.07 L882.7 163.12 L883.4 163.09 L884.1 163.56 L884.8 163.36 L885.5 163.21 L886.2 163.26 L886.9 163.14 L887.6 162.79 L888.3 163.53 L889.0 163.31 L889.7 162.69 L890.4 163.07 L891.1 163.37 L891.8 163.14 L892.5 163.11 L893.2 162.53 L893.9 163.29 L894.6 163.08 L895.3 163.30 L896.0 163.39 L896.7 163.43 L897.4 163.05 L898.1 163.19 L898.8 163.51 L899.5 163.01 L900.2 163.13 L900.9 162.77 L901.6 163.13 L902.3 163.41 L903.0 163.54 L903.7 162.78 L904.4 162.20 L905.1 163.37 L905.8 163.06 L906.5 161.98 L907.2 163.40 L907.9 163.42 L908.6 163.23 L909.3 162.98 L910.0 163.43 L910.7 163.03 L911.4 163.15 L912.1 163.15 L912.8 162.93 L913.5 163.26 L914.2 162.51 L914.9 163.25 L915.6 162.94 L916.3 163.41 L917.0 163.37 L917.7 162.71 L918.4 163.68 L919.1 163.29 L919.8 163.41 L920.5 163.53 L921.2 162.80 L921.9 163.56 L922.6 162.80 L923.3 163.33 L924.0 163.60 L924.7 163.18 L925.4 162.62 L926.1 163.50 L926.8 163.38 L927.5 162.78 L928.2 163.45 L928.9 163.41 L929.6 163.37 L930.3 162.94 L931.0 163.31 L931.7 163.91 L932.4 163.63 L933.1 163.30 L933.8 163.70 L934.5 162.91 L935.2 163.76 L935.9 162.93 L936.6 163.68 L937.3 163.85 L938.0 163.58 L938.7 163.46 L939.4 163.79 L940.1 163.20 L940.8 163.94 L941.5 162.91 L942.2 163.12 L942.9 163.29 L943.6 162.97 L944.3 163.71 L945.0 163.19 L945.7 163.45 L946.4 163.96 L947.1 163.55 L947.8 163.59 L948.5 163.97 L949.2 162.28 L949.9 163.68 L950.6 163.64 L951.3 163.82 L952.0 163.48 L952.7 162.92 L953.4 163.60 L954.1 163.17 L954.8 163.92 L955.5 163.83 L956.2 162.58 L956.9 163.10 L957.6 163.35 L958.3 163.85 L959.0 163.01 L959.7 163.32 L960.4 163.67 L961.1 163.66 L961.8 163.69 L962.5 163.19 L963.2 163.48 L963.9 162.90 L964.6 163.77 L965.3 163.56 L966.0 163.67 L966.7 163.75 L967.4 163.44 L968.1 163.68 L968.8 163.75 L969.5 163.54 L970.2 162.90 L970.9 163.55 L971.6 162.33 L972.3 163.07 L973.0 163.72 L973.7 163.23 L974.4 163.28 L975.1 163.00 L975.8 162.86 L976.5 162.46 L977.2 163.39 L977.9 163.42 L978.6 163.45 L979.3 163.77 L980.0 163.65 L980.7 162.58 L981.4 162.56 L982.1 163.81 L982.8 163.07 L983.5 162.94 L984.2 163.52 L984.9 163.39 L985.6 163.70 L986.3 163.83 L987.0 163.85 L987.7 163.44 L988.4 163.60 L989.1 163.74 L989.8 163.13 L990.5 162.94 L991.2 163.49 L991.9 163.88 L992.6 163.82 L993.3 163.89 L994.0 163.44 L994.7 163.78 L995.4 163.79 L996.1 163.29 L996.8 163.64 L997.5 163.20 L998.2 163.52 L998.9 163.74 L999.6 163.16 L1000.3 163.31 L1001.0 163.18 L1001.7 163.56 L1002.4 163.77 L1003.1 163.09 L1003.8 163.26 L1004.5 163.89 L1005.2 163.51 L1005.9 164.04 L1006.6 164.05 L1007.3 163.85 L1008.0 163.83 L1008.7 163.90 L1009.4 163.78 L1010.1 163.17 L1010.8 162.57 L1011.5 163.88 L1012.2 163.28 L1012.9 163.15 L1013.6 163.82 L1014.3 163.87 L1015.0 162.82 L1015.7 162.49 L1016.4 163.23 L1017.1 163.89 L1017.8 163.59 L1018.5 163.36 L1019.2 163.60 L1019.9 163.64 L1020.6 162.31 L1021.3 163.08 L1022.0 162.96 L1022.7 163.87 L1023.4 163.62 L1024.1 162.85 L1024.8 163.68 L1025.5 163.81 L1026.2 163.85 L1026.9 163.72 L1027.6 162.86 L1028.3 163.87 L1029.0 162.74 L1029.7 163.75 L1030.4 163.66 L1031.1 163.69 L1031.8 163.18 L1032.5 163.79 L1033.2 163.57 L1033.9 163.40 L1034.6 163.40 L1035.3 163.20 L1036.0 163.64 L1036.7 163.23 L1037.4 163.37 L1038.1 163.70 L1038.8 163.38 L1039.5 163.00 L1040.2 163.44 L1040.9 163.55 L1041.6 163.16 L1042.3 162.91 L1043.0 163.14 L1043.7 163.23 L1044.4 162.92 L1045.1 163.51 L1045.8 163.35 L1046.5 163.55 L1047.2 162.74 L1047.9 162.61 L1048.6 162.76 L1049.3 163.38 L1050.0 163.56 L1050.7 163.62 L1051.4 162.75 L1052.1 162.94 L1052.8 163.19 L1053.5 163.52 L1054.2 163.28 L1054.9 162.83 L1055.6 162.92 L1056.3 163.01 L1057.0 162.85 L1057.7 163.07 L1058.4 163.15 L1059.1 163.28 L1059.8 163.65 L1060.5 163.54 L1061.2 163.50 L1061.9 163.62 L1062.6 163.61 L1063.3 162.77 L1064.0 162.56 L1064.7 163.02 L1065.4 163.71 L1066.1 162.76 L1066.8 163.35 L1067.5 163.33 L1068.2 163.21 L1068.9 163.62 L1069.6 163.44 L1070.3 163.34 L1071.0 163.04 L1071.7 163.73 L1072.4 163.41 L1073.1 163.36 L1073.8 163.47 L1074.5 163.68 L1075.2 163.48 L1075.9 162.69 L1076.6 163.81 L1077.3 162.80 L1078.0 163.58 L1078.7 163.65 L1079.4 163.36 L1080.1 163.56 L1080.8 163.59 L1081.5 163.57 L1082.2 162.36 L1082.9 163.52 L1083.6 163.63 L1084.3 163.14 L1085.0 163.79 L1085.7 163.07 L1086.4 163.46 L1087.1 163.74 L1087.8 163.14 L1088.5 163.31 L1089.2 163.51 L1089.9 162.88 L1090.6 163.58 L1091.3 163.46 L1092.0 163.62 L1092.7 163.22 L1093.4 163.46 L1094.1 162.82 L1094.8 163.53 L1095.5 163.70 L1096.2 163.13 L1096.9 163.17 L1097.6 162.58 L1098.3 163.56 L1099.0 162.92 L1099.7 163.31 L1100.4 162.54 L1101.1 162.91 L1101.8 163.48 L1102.5 163.43 L1103.2 162.77 L1103.9 163.52 L1104.6 163.38 L1105.3 163.18 L1106.0 163.10 L1106.7 162.96 L1107.4 163.06 L1108.1 162.80 L1108.8 163.05 L1109.5 162.74 L1110.2 163.08 L1110.9 162.84 L1111.6 162.44 L1112.3 163.26 L1113.0 163.11 L1113.7 162.94 L1114.4 163.06 L1115.1 162.56 L1115.8 163.01 L1116.5 163.08 L1117.2 163.46 L1117.9 162.98 L1118.6 163.18 L1119.3 163.20 L1120.0 162.13 L1120.7 162.94 L1121.4 162.15 L1122.1 163.04 L1122.8 163.53 L1123.5 162.57 L1124.2 163.54 L1124.9 163.16 L1125.6 163.20 L1126.3 163.06 L1127.0 163.15 L1127.7 162.92 L1128.4 162.51 L1129.1 163.57 L1129.8 163.07 L1130.5 162.71 L1131.2 163.29 L1131.9 163.56 L1132.6 163.30 L1133.3 163.50 L1134.0 162.89 L1134.7 162.86 L1135.4 163.22 L1136.1 163.19 L1136.8 163.38 L1137.5 162.76 L1138.2 162.51 L1138.9 163.65 L1139.6 162.83 L1140.3 163.45 L1141.0 163.31 L1141.7 163.66 L1142.4 163.29 L1143.1 163.06 L1143.8 163.56 L1144.5 163.67 L1145.2 163.57 L1145.9 163.60 L1146.6 163.70 L1147.3 163.06 L1148.0 163.25 L1148.7 163.39 L1149.4 163.72 L1150.1 163.56 L1150.8 163.64 L1151.5 163.10 L1152.2 163.10 L1152.9 163.37 L1153.6 163.71 L1154.3 163.63 L1155.0 163.53 L1155.7 163.46 L1156.4 163.26 L1157.1 163.88 L1157.8 163.73 L1158.5 163.77 L1159.2 163.15 L1159.9 163.76 L1160.6 163.07 L1161.3 163.80 L1162.0 163.27 L1162.7 163.85 L1163.4 163.88 L1164.1 163.88 L1164.8 163.66 L1165.5 163.59 L1166.2 163.04 L1166.9 163.07 L1167.6 163.56 L1168.3 162.61 L1169.0 163.72 L1169.7 163.54 L1170.4 162.59 L1171.1 162.91 L1171.8 163.68 L1172.5 163.53 L1173.2 163.67 L1173.9 163.56 L1174.6 163.65 L1175.3 163.73 L1176.0 161.99 L1176.7 163.52 L1177.4 163.75 L1178.1 163.57 L1178.8 163.70 L1179.5 163.47 L1180.2 163.50 L1180.9 163.11 L1181.6 163.58 L1182.3 162.98 L1183.0 163.17 L1183.7 163.63 L1184.4 163.11 L1185.1 162.83 L1185.8 163.60 L1186.5 162.94 L1187.2 163.54 L1187.9 162.85 L1188.6 163.44 L1189.3 162.63 L1190.0 163.40 L1190.7 162.46 L1191.4 163.22 L1192.1 163.20 L1192.8 163.21 L1193.5 163.63 L1194.2 162.91 L1194.9 162.83 L1195.6 163.66 L1196.3 163.10 L1197.0 163.39 L1197.7 162.84 L1198.4 163.69 L1199.1 163.35 L1199.8 163.53 L1200.5 163.45 L1201.2 163.76 L1201.9 162.12 L1202.6 163.31 L1203.3 163.65 L1204.0 163.27 L1204.7 163.48 L1205.4 163.59 L1206.1 163.37 L1206.8 163.50 L1207.5 163.51 L1208.2 162.33 L1208.9 162.50 L1209.6 163.55 L1210.3 162.57 L1211.0 163.02 L1211.7 163.93 L1212.4 163.60 L1213.1 163.09 L1213.8 163.50 L1214.5 163.80 L1215.2 163.93 L1215.9 163.27 L1216.6 164.04 L1217.3 163.45 L1218.0 163.88 L1218.7 163.50 L1219.4 163.98 L1220.1 163.42 L1220.8 163.57 L1221.5 163.11 L1222.2 163.71 L1222.9 163.75 L1223.6 163.97 L1224.3 163.97 L1225.0 163.88 L1225.7 164.05 L1226.4 163.96 L1227.1 163.82 L1227.8 163.38 L1228.5 163.88 L1229.2 163.75 L1229.9 163.86 L1230.6 163.86 L1231.3 163.29 L1232.0 164.00 L1232.7 164.05 L1233.4 163.96 L1234.1 163.79 L1234.8 162.95 L1235.5 163.23 L1236.2 163.83 L1236.9 162.21 L1237.6 163.52 L1238.3 163.89 L1239.0 163.94 L1239.7 161.90 L1240.4 163.84 L1241.1 163.84 L1241.8 163.93 L1242.5 163.72 L1243.2 163.64 L1243.9 163.40 L1244.6 163.75 L1245.3 163.71 L1246.0 162.81 L1246.7 163.76 L1247.4 163.80 L1248.1 163.42 L1248.8 163.08 L1249.5 163.01 L1250.2 162.97 L1250.9 163.37 L1251.6 163.39 L1252.3 163.59 L1253.0 163.63 L1253.7 162.99 L1254.4 163.51 L1255.1 163.66 L1255.8 163.51 L1256.5 162.80 L1257.2 163.32 L1257.9 163.63 L1258.6 162.81 L1259.3 163.16 L1259.3 171.09 L1258.6 170.41 L1257.9 170.59 L1257.2 170.33 L1256.5 170.24 L1255.8 170.63 L1255.1 170.48 L1254.4 170.52 L1253.7 171.10 L1253.0 170.55 L1252.3 171.47 L1251.6 170.29 L1250.9 170.22 L1250.2 170.78 L1249.5 171.35 L1248.8 170.26 L1248.1 170.52 L1247.4 170.64 L1246.7 170.71 L1246.0 170.42 L1245.3 171.16 L1244.6 170.83 L1243.9 170.68 L1243.2 170.75 L1242.5 170.34 L1241.8 171.01 L1241.1 170.35 L1240.4 170.41 L1239.7 170.84 L1239.0 171.02 L1238.3 171.15 L1237.6 171.05 L1236.9 171.08 L1236.2 170.74 L1235.5 170.76 L1234.8 170.60 L1234.1 170.51 L1233.4 170.63 L1232.7 170.85 L1232.0 170.58 L1231.3 171.75 L1230.6 170.70 L1229.9 170.51 L1229.2 170.86 L1228.5 170.51 L1227.8 170.66 L1227.1 170.52 L1226.4 171.14 L1225.7 170.65 L1225.0 170.84 L1224.3 171.34 L1223.6 170.51 L1222.9 170.62 L1222.2 170.89 L1221.5 170.53 L1220.8 170.50 L1220.1 170.49 L1219.4 171.06 L1218.7 171.55 L1218.0 170.89 L1217.3 170.62 L1216.6 170.86 L1215.9 170.81 L1215.2 171.06 L1214.5 170.51 L1213.8 170.47 L1213.1 170.61 L1212.4 170.55 L1211.7 170.89 L1211.0 170.59 L1210.3 170.80 L1209.6 170.46 L1208.9 170.37 L1208.2 170.68 L1207.5 170.70 L1206.8 170.70 L1206.1 171.05 L1205.4 170.72 L1204.7 171.70 L1204.0 170.51 L1203.3 171.04 L1202.6 170.71 L1201.9 170.27 L1201.2 171.17 L1200.5 171.04 L1199.8 170.52 L1199.1 171.03 L1198.4 171.24 L1197.7 170.24 L1197.0 170.31 L1196.3 170.83 L1195.6 170.45 L1194.9 171.12 L1194.2 170.48 L1193.5 170.80 L1192.8 170.66 L1192.1 170.32 L1191.4 170.39 L1190.7 171.13 L1190.0 171.51 L1189.3 171.11 L1188.6 171.26 L1187.9 170.26 L1187.2 171.32 L1186.5 171.28 L1185.8 170.30 L1185.1 170.20 L1184.4 170.75 L1183.7 170.22 L1183.0 170.31 L1182.3 170.38 L1181.6 170.56 L1180.9 170.19 L1180.2 170.73 L1179.5 170.43 L1178.8 170.62 L1178.1 170.96 L1177.4 170.62 L1176.7 170.35 L1176.0 170.66 L1175.3 170.82 L1174.6 170.79 L1173.9 171.41 L1173.2 170.82 L1172.5 171.24 L1171.8 171.89 L1171.1 170.45 L1170.4 170.97 L1169.7 171.57 L1169.0 170.55 L1168.3 170.61 L1167.6 171.44 L1166.9 171.07 L1166.2 170.56 L1165.5 170.60 L1164.8 170.49 L1164.1 171.10 L1163.4 170.51 L1162.7 171.30 L1162.0 171.04 L1161.3 170.92 L1160.6 170.96 L1159.9 171.63 L1159.2 170.67 L1158.5 170.44 L1157.8 170.38 L1157.1 170.35 L1156.4 170.34 L1155.7 170.86 L1155.0 171.01 L1154.3 170.51 L1153.6 170.65 L1152.9 170.52 L1152.2 171.04 L1151.5 170.74 L1150.8 170.84 L1150.1 170.79 L1149.4 170.84 L1148.7 170.52 L1148.0 170.74 L1147.3 171.04 L1146.6 171.29 L1145.9 171.01 L1145.2 170.34 L1144.5 171.11 L1143.8 170.62 L1143.1 171.21 L1142.4 170.39 L1141.7 170.28 L1141.0 170.87 L1140.3 170.26 L1139.6 170.67 L1138.9 171.21 L1138.2 170.38 L1137.5 170.61 L1136.8 171.18 L1136.1 170.43 L1135.4 170.51 L1134.7 171.00 L1134.0 170.28 L1133.3 170.34 L1132.6 170.60 L1131.9 170.32 L1131.2 170.18 L1130.5 171.12 L1129.8 170.13 L1129.1 170.56 L1128.4 170.17 L1127.7 170.51 L1127.0 170.38 L1126.3 170.39 L1125.6 171.00 L1124.9 170.98 L1124.2 170.09 L1123.5 170.28 L1122.8 170.32 L1122.1 171.30 L1121.4 170.50 L1120.7 170.10 L1120.0 170.52 L1119.3 170.09 L1118.6 170.25 L1117.9 170.11 L1117.2 170.13 L1116.5 170.03 L1115.8 170.17 L1115.1 170.17 L1114.4 170.12 L1113.7 170.62 L1113.0 170.12 L1112.3 170.02 L1111.6 171.23 L1110.9 170.17 L1110.2 170.17 L1109.5 171.05 L1108.8 170.38 L1108.1 170.06 L1107.4 170.72 L1106.7 170.74 L1106.0 170.14 L1105.3 170.08 L1104.6 170.29 L1103.9 170.36 L1103.2 171.32 L1102.5 170.57 L1101.8 170.77 L1101.1 170.42 L1100.4 170.13 L1099.7 170.36 L1099.0 170.32 L1098.3 170.84 L1097.6 171.40 L1096.9 170.17 L1096.2 170.29 L1095.5 170.47 L1094.8 170.81 L1094.1 170.28 L1093.4 170.66 L1092.7 170.32 L1092.0 170.65 L1091.3 170.81 L1090.6 171.09 L1089.9 170.24 L1089.2 170.20 L1088.5 170.95 L1087.8 170.93 L1087.1 171.04 L1086.4 170.44 L1085.7 170.74 L1085.0 170.75 L1084.3 171.52 L1083.6 171.00 L1082.9 171.09 L1082.2 170.47 L1081.5 171.08 L1080.8 170.64 L1080.1 170.65 L1079.4 171.24 L1078.7 171.62 L1078.0 170.77 L1077.3 170.29 L1076.6 170.47 L1075.9 171.04 L1075.2 170.74 L1074.5 171.25 L1073.8 170.34 L1073.1 170.71 L1072.4 170.32 L1071.7 170.78 L1071.0 170.35 L1070.3 170.83 L1069.6 170.60 L1068.9 170.96 L1068.2 170.60 L1067.5 170.59 L1066.8 170.21 L1066.1 171.43 L1065.4 171.81 L1064.7 170.31 L1064.0 170.13 L1063.3 171.01 L1062.6 170.22 L1061.9 170.23 L1061.2 171.11 L1060.5 171.23 L1059.8 170.67 L1059.1 171.85 L1058.4 170.90 L1057.7 170.19 L1057.0 171.16 L1056.3 170.65 L1055.6 170.63 L1054.9 170.69 L1054.2 170.76 L1053.5 170.23 L1052.8 170.36 L1052.1 170.33 L1051.4 170.49 L1050.7 170.32 L1050.0 170.89 L1049.3 170.64 L1048.6 170.04 L1047.9 170.54 L1047.2 170.97 L1046.5 170.53 L1045.8 170.72 L1045.1 170.11 L1044.4 170.93 L1043.7 170.19 L1043.0 170.29 L1042.3 170.21 L1041.6 170.16 L1040.9 170.49 L1040.2 171.31 L1039.5 170.92 L1038.8 170.91 L1038.1 170.54 L1037.4 170.89 L1036.7 170.57 L1036.0 170.40 L1035.3 171.28 L1034.6 170.57 L1033.9 171.47 L1033.2 170.90 L1032.5 171.33 L1031.8 171.46 L1031.1 170.29 L1030.4 170.56 L1029.7 170.46 L1029.0 170.51 L1028.3 170.34 L1027.6 170.44 L1026.9 170.97 L1026.2 170.59 L1025.5 171.54 L1024.8 170.38 L1024.1 170.58 L1023.4 170.65 L1022.7 170.87 L1022.0 171.54 L1021.3 170.40 L1020.6 171.01 L1019.9 170.94 L1019.2 170.46 L1018.5 170.49 L1017.8 171.47 L1017.1 171.34 L1016.4 170.66 L1015.7 171.00 L1015.0 170.53 L1014.3 171.33 L1013.6 170.95 L1012.9 171.07 L1012.2 170.73 L1011.5 171.00 L1010.8 172.24 L1010.1 170.69 L1009.4 170.70 L1008.7 170.87 L1008.0 171.18 L1007.3 170.49 L1006.6 170.58 L1005.9 170.65 L1005.2 170.55 L1004.5 170.78 L1003.8 171.18 L1003.1 170.45 L1002.4 171.23 L1001.7 170.67 L1001.0 171.31 L1000.3 170.72 L999.6 170.64 L998.9 170.50 L998.2 170.92 L997.5 171.39 L996.8 171.81 L996.1 171.01 L995.4 170.47 L994.7 170.46 L994.0 170.92 L993.3 171.26 L992.6 170.96 L991.9 170.48 L991.2 171.09 L990.5 170.50 L989.8 170.49 L989.1 170.41 L988.4 170.97 L987.7 170.88 L987.0 170.33 L986.3 170.42 L985.6 171.43 L984.9 170.95 L984.2 170.81 L983.5 170.40 L982.8 170.80 L982.1 170.56 L981.4 171.51 L980.7 170.69 L980.0 170.90 L979.3 170.63 L978.6 170.46 L977.9 171.19 L977.2 170.93 L976.5 170.76 L975.8 170.90 L975.1 170.63 L974.4 170.64 L973.7 170.68 L973.0 170.35 L972.3 170.93 L971.6 170.82 L970.9 170.86 L970.2 170.25 L969.5 170.41 L968.8 170.74 L968.1 170.95 L967.4 170.59 L966.7 170.79 L966.0 170.49 L965.3 170.45 L964.6 170.74 L963.9 170.47 L963.2 170.89 L962.5 170.87 L961.8 170.61 L961.1 171.02 L960.4 171.47 L959.7 170.37 L959.0 170.47 L958.3 170.82 L957.6 170.89 L956.9 170.45 L956.2 170.65 L955.5 172.14 L954.8 170.54 L954.1 170.99 L953.4 170.72 L952.7 170.56 L952.0 170.59 L951.3 170.39 L950.6 170.68 L949.9 170.48 L949.2 170.39 L948.5 171.28 L947.8 170.46 L947.1 170.89 L946.4 171.15 L945.7 170.47 L945.0 170.68 L944.3 170.68 L943.6 170.64 L942.9 170.50 L942.2 170.79 L941.5 170.90 L940.8 170.74 L940.1 170.98 L939.4 170.61 L938.7 170.70 L938.0 171.18 L937.3 170.52 L936.6 171.33 L935.9 171.16 L935.2 170.43 L934.5 170.89 L933.8 170.35 L933.1 170.33 L932.4 171.07 L931.7 171.60 L931.0 171.34 L930.3 170.31 L929.6 170.73 L928.9 170.45 L928.2 170.30 L927.5 170.36 L926.8 170.25 L926.1 170.56 L925.4 170.51 L924.7 171.00 L924.0 170.80 L923.3 170.24 L922.6 170.71 L921.9 170.63 L921.2 170.57 L920.5 170.25 L919.8 170.31 L919.1 170.39 L918.4 170.21 L917.7 170.48 L917.0 171.07 L916.3 170.17 L915.6 170.20 L914.9 170.52 L914.2 170.12 L913.5 170.26 L912.8 170.44 L912.1 170.19 L911.4 170.24 L910.7 170.44 L910.0 170.66 L909.3 170.60 L908.6 170.79 L907.9 171.19 L907.2 170.54 L906.5 170.48 L905.8 170.92 L905.1 170.07 L904.4 170.02 L903.7 170.27 L903.0 170.47 L902.3 170.67 L901.6 170.36 L900.9 170.66 L900.2 170.25 L899.5 170.06 L898.8 170.47 L898.1 170.62 L897.4 170.41 L896.7 170.64 L896.0 171.00 L895.3 170.98 L894.6 170.71 L893.9 171.01 L893.2 170.43 L892.5 170.80 L891.8 170.23 L891.1 171.93 L890.4 170.62 L889.7 170.25 L889.0 170.52 L888.3 170.70 L887.6 170.39 L886.9 170.49 L886.2 170.22 L885.5 170.53 L884.8 170.93 L884.1 170.66 L883.4 171.12 L882.7 170.16 L882.0 170.41 L881.3 170.63 L880.6 171.01 L879.9 170.98 L879.2 170.56 L878.5 170.43 L877.8 170.76 L877.1 170.68 L876.4 170.29 L875.7 170.65 L875.0 170.45 L874.3 170.59 L873.6 170.29 L872.9 170.40 L872.2 170.27 L871.5 170.74 L870.8 170.63 L870.1 170.50 L869.4 170.39 L868.7 171.05 L868.0 170.41 L867.3 170.31 L866.6 170.64 L865.9 170.57 L865.2 170.30 L864.5 171.17 L863.8 170.40 L863.1 170.72 L862.4 170.68 L861.7 170.99 L861.0 170.64 L860.3 170.60 L859.6 170.19 L858.9 170.99 L858.2 170.25 L857.5 170.56 L856.8 171.55 L856.1 170.78 L855.4 170.11 L854.7 170.42 L854.0 170.37 L853.3 170.13 L852.6 170.34 L851.9 171.17 L851.2 171.57 L850.5 170.09 L849.8 170.11 L849.1 170.70 L848.4 170.53 L847.7 170.11 L847.0 170.29 L846.3 170.24 L845.6 170.03 L844.9 170.10 L844.2 170.14 L843.5 171.24 L842.8 170.00 L842.1 170.17 L841.4 171.09 L840.7 170.14 L840.0 170.24 L839.3 170.26 L838.6 170.89 L837.9 170.45 L837.2 171.00 L836.5 170.74 L835.8 171.20 L835.1 170.48 L834.4 170.42 L833.7 169.99 L833.0 170.74 L832.3 170.17 L831.6 170.91 L830.9 170.70 L830.2 171.91 L829.5 170.27 L828.8 170.04 L828.1 170.47 L827.4 171.31 L826.7 170.18 L826.0 170.45 L825.3 171.24 L824.6 170.77 L823.9 170.21 L823.2 170.49 L822.5 170.27 L821.8 171.64 L821.1 170.47 L820.4 170.85 L819.7 171.16 L819.0 170.99 L818.3 170.18 L817.6 170.82 L816.9 170.46 L816.2 170.33 L815.5 170.80 L814.8 170.64 L814.1 171.93 L813.4 170.25 L812.7 170.55 L812.0 170.47 L811.3 171.47 L810.6 171.13 L809.9 170.45 L809.2 170.78 L808.5 170.47 L807.8 170.85 L807.1 171.26 L806.4 170.44 L805.7 171.21 L805.0 170.52 L804.3 170.92 L803.6 170.44 L802.9 171.25 L802.2 170.62 L801.5 170.45 L800.8 170.62 L800.1 171.49 L799.4 171.89 L798.7 171.08 L798.0 170.65 L797.3 170.81 L796.6 170.71 L795.9 170.48 L795.2 170.72 L794.5 170.66 L793.8 171.05 L793.1 171.07 L792.4 170.77 L791.7 171.04 L791.0 170.64 L790.3 171.89 L789.6 170.66 L788.9 171.01 L788.2 171.32 L787.5 170.96 L786.8 170.49 L786.1 171.12 L785.4 171.10 L784.7 170.57 L784.0 170.88 L783.3 171.39 L782.6 170.98 L781.9 170.74 L781.2 170.84 L780.5 170.55 L779.8 171.06 L779.1 170.88 L778.4 170.97 L777.7 170.53 L777.0 171.04 L776.3 170.94 L775.6 171.23 L774.9 170.53 L774.2 170.45 L773.5 171.12 L772.8 170.53 L772.1 170.49 L771.4 170.67 L770.7 170.69 L770.0 170.91 L769.3 170.87 L768.6 170.40 L767.9 170.35 L767.2 170.95 L766.5 171.03 L765.8 170.22 L765.1 170.55 L764.4 170.86 L763.7 170.81 L763.0 170.46 L762.3 171.69 L761.6 170.53 L760.9 170.61 L760.2 170.49 L759.5 170.68 L758.8 170.59 L758.1 170.34 L757.4 170.57 L756.7 170.71 L756.0 170.70 L755.3 170.46 L754.6 170.39 L753.9 170.58 L753.2 171.44 L752.5 170.30 L751.8 170.53 L751.1 170.51 L750.4 170.56 L749.7 171.41 L749.0 171.18 L748.3 170.76 L747.6 170.63 L746.9 170.98 L746.2 170.87 L745.5 170.71 L744.8 171.27 L744.1 170.54 L743.4 170.52 L742.7 170.57 L742.0 170.60 L741.3 170.50 L740.6 170.45 L739.9 170.55 L739.2 170.79 L738.5 171.29 L737.8 171.91 L737.1 170.55 L736.4 170.54 L735.7 171.20 L735.0 170.80 L734.3 171.49 L733.6 170.70 L732.9 170.62 L732.2 170.90 L731.5 171.03 L730.8 170.63 L730.1 170.54 L729.4 170.64 L728.7 171.28 L728.0 171.49 L727.3 171.03 L726.6 170.81 L725.9 170.50 L725.2 170.52 L724.5 170.52 L723.8 170.99 L723.1 170.79 L722.4 170.74 L721.7 171.30 L721.0 170.43 L720.3 170.57 L719.6 171.18 L718.9 170.67 L718.2 171.27 L717.5 170.94 L716.8 170.83 L716.1 170.70 L715.4 170.99 L714.7 171.18 L714.0 170.63 L713.3 170.71 L712.6 170.41 L711.9 170.88 L711.2 170.28 L710.5 171.27 L709.8 170.25 L709.1 170.83 L708.4 170.35 L707.7 171.58 L707.0 170.69 L706.3 170.69 L705.6 170.68 L704.9 170.50 L704.2 170.26 L703.5 170.27 L702.8 170.14 L702.1 170.43 L701.4 171.49 L700.7 170.22 L700.0 170.38 L699.3 170.20 L698.6 170.83 L697.9 170.29 L697.2 170.33 L696.5 170.14 L695.8 170.16 L695.1 170.55 L694.4 170.78 L693.7 171.06 L693.0 170.22 L692.3 170.57 L691.6 170.19 L690.9 170.11 L690.2 170.65 L689.5 170.65 L688.8 170.38 L688.1 170.26 L687.4 170.33 L686.7 170.23 L686.0 170.34 L685.3 170.93 L684.6 171.22 L683.9 170.99 L683.2 170.49 L682.5 170.23 L681.8 170.79 L681.1 170.24 L680.4 170.25 L679.7 170.09 L679.0 170.19 L678.3 170.36 L677.6 170.31 L676.9 170.86 L676.2 170.64 L675.5 170.76 L674.8 170.37 L674.1 170.52 L673.4 170.55 L672.7 170.14 L672.0 170.62 L671.3 170.29 L670.6 170.75 L669.9 170.31 L669.2 170.19 L668.5 170.88 L667.8 170.74 L667.1 170.80 L666.4 170.29 L665.7 170.60 L665.0 170.20 L664.3 171.56 L663.6 171.11 L662.9 171.06 L662.2 170.40 L661.5 170.25 L660.8 170.36 L660.1 170.77 L659.4 170.53 L658.7 170.38 L658.0 170.35 L657.3 171.03 L656.6 170.84 L655.9 170.22 L655.2 170.66 L654.5 171.12 L653.8 170.32 L653.1 170.54 L652.4 170.29 L651.7 170.57 L651.0 170.36 L650.3 170.56 L649.6 170.33 L648.9 170.19 L648.2 170.54 L647.5 170.20 L646.8 170.19 L646.1 170.91 L645.4 170.26 L644.7 170.73 L644.0 170.12 L643.3 170.80 L642.6 170.77 L641.9 170.91 L641.2 170.33 L640.5 170.56 L639.8 170.78 L639.1 170.13 L638.4 170.53 L637.7 170.28 L637.0 170.30 L636.3 170.37 L635.6 170.01 L634.9 170.03 L634.2 170.07 L633.5 171.52 L632.8 170.29 L632.1 170.48 L631.4 170.38 L630.7 170.45 L630.0 170.23 L629.3 170.79 L628.6 171.06 L627.9 171.03 L627.2 169.99 L626.5 170.15 L625.8 170.40 L625.1 170.30Z" fill="#1661a1"/>
<rect x="580.5" y="376.6" width="694.5" height="304.79999999999995" fill="#fff" stroke="#2a2424" stroke-width="1.3"/>
<rect x="623.6" y="412.00" width="635.3000000000001" height="29.31" fill="#f2f0f0"/>
<rect x="623.6" y="470.62" width="635.3000000000001" height="29.31" fill="#f2f0f0"/>
<rect x="623.6" y="529.25" width="635.3000000000001" height="29.31" fill="#f2f0f0"/>
<rect x="623.6" y="587.88" width="635.3000000000001" height="29.31" fill="#f2f0f0"/>
<line x1="623.6" y1="412" x2="623.6" y2="646.5" stroke="#dddbdb" stroke-width="1"/>
<line x1="623.6" y1="646.5" x2="1258.9" y2="646.5" stroke="#dddbdb" stroke-width="1"/>
<line x1="642.7" y1="412" x2="642.7" y2="646.5" stroke="#c6c4c4" stroke-width="0.9" stroke-dasharray="1.3 2.1"/>
<line x1="642.7" y1="646.5" x2="642.7" y2="649.1" stroke="#999" stroke-width="0.9"/>
<line x1="770.2" y1="412" x2="770.2" y2="646.5" stroke="#c6c4c4" stroke-width="0.9" stroke-dasharray="1.3 2.1"/>
<line x1="770.2" y1="646.5" x2="770.2" y2="649.1" stroke="#999" stroke-width="0.9"/>
<line x1="897.4" y1="412" x2="897.4" y2="646.5" stroke="#c6c4c4" stroke-width="0.9" stroke-dasharray="1.3 2.1"/>
<line x1="897.4" y1="646.5" x2="897.4" y2="649.1" stroke="#999" stroke-width="0.9"/>
<line x1="1024.6" y1="412" x2="1024.6" y2="646.5" stroke="#c6c4c4" stroke-width="0.9" stroke-dasharray="1.3 2.1"/>
<line x1="1024.6" y1="646.5" x2="1024.6" y2="649.1" stroke="#999" stroke-width="0.9"/>
<line x1="1151.6" y1="412" x2="1151.6" y2="646.5" stroke="#c6c4c4" stroke-width="0.9" stroke-dasharray="1.3 2.1"/>
<line x1="1151.6" y1="646.5" x2="1151.6" y2="649.1" stroke="#999" stroke-width="0.9"/>
<text class="tk" x="640.9" y="657.5" text-anchor="middle" textLength="24" lengthAdjust="spacingAndGlyphs" style="font-size:6.6px">00:02:00</text>
<text class="tk" x="768.4" y="657.5" text-anchor="middle" textLength="24" lengthAdjust="spacingAndGlyphs" style="font-size:6.6px">00:03:00</text>
<text class="tk" x="895.6" y="657.5" text-anchor="middle" textLength="24" lengthAdjust="spacingAndGlyphs" style="font-size:6.6px">00:04:00</text>
<text class="tk" x="1022.8" y="657.5" text-anchor="middle" textLength="24" lengthAdjust="spacingAndGlyphs" style="font-size:6.6px">00:05:00</text>
<text class="tk" x="1149.8" y="657.5" text-anchor="middle" textLength="24" lengthAdjust="spacingAndGlyphs" style="font-size:6.6px">00:06:00</text>
<line x1="621.0" y1="441.3" x2="623.6" y2="441.3" stroke="#999" stroke-width="0.9"/>
<text class="tk" x="617.4" y="443.6" text-anchor="end">350.0</text>
<line x1="621.0" y1="470.6" x2="623.6" y2="470.6" stroke="#999" stroke-width="0.9"/>
<text class="tk" x="617.4" y="472.9" text-anchor="end">300.0</text>
<line x1="621.0" y1="499.9" x2="623.6" y2="499.9" stroke="#999" stroke-width="0.9"/>
<text class="tk" x="617.4" y="502.2" text-anchor="end">250.0</text>
<line x1="621.0" y1="529.2" x2="623.6" y2="529.2" stroke="#999" stroke-width="0.9"/>
<text class="tk" x="617.4" y="531.5" text-anchor="end">200.0</text>
<line x1="621.0" y1="558.6" x2="623.6" y2="558.6" stroke="#999" stroke-width="0.9"/>
<text class="tk" x="617.4" y="560.9" text-anchor="end">150.0</text>
<line x1="621.0" y1="587.9" x2="623.6" y2="587.9" stroke="#999" stroke-width="0.9"/>
<text class="tk" x="617.4" y="590.2" text-anchor="end">100.0</text>
<line x1="621.0" y1="617.2" x2="623.6" y2="617.2" stroke="#999" stroke-width="0.9"/>
<text class="tk" x="617.4" y="619.5" text-anchor="end">50.00</text>
<rect x="598" y="408" width="23.399999999999977" height="9" fill="#fff" stroke="#cfcdcd" stroke-width="0.8"/>
<text x="608.4" y="415.0" text-anchor="middle" font-size="7.1px" textLength="16.8" lengthAdjust="spacingAndGlyphs" fill="#111" stroke="#111" stroke-width="0.15">400.0</text>
<rect x="598.5" y="642.3" width="21.899999999999977" height="9.100000000000023" fill="#fff" stroke="#cfcdcd" stroke-width="0.8"/>
<text x="608.2" y="649.3" text-anchor="middle" font-size="7.1px" textLength="16.8" lengthAdjust="spacingAndGlyphs" fill="#111" stroke="#111" stroke-width="0.15">0.000</text>
<text class="tk" x="614" y="405" text-anchor="middle">[uJ]</text>
<text x="942" y="668.6" text-anchor="middle" font-size="6.8px" fill="#333">Time (h:m:s)</text>
<path d="M594.4 408 L594.4 670 Q594.4 672.5 596 673" fill="none" stroke="#e2e0e0" stroke-width="0.8"/>
<path d="M624.2 518.29 L624.9 518.71 L625.6 518.44 L626.3 518.12 L627.0 518.96 L627.7 519.12 L628.4 519.33 L629.1 519.33 L629.8 519.29 L630.5 518.83 L631.2 519.28 L631.9 518.77 L632.6 518.72 L633.3 519.08 L634.0 518.81 L634.7 519.16 L635.4 518.45 L636.1 518.96 L636.8 518.74 L637.5 519.01 L638.2 519.30 L638.9 518.69 L639.6 519.24 L640.3 519.15 L641.0 518.70 L641.7 519.04 L642.4 519.40 L643.1 519.04 L643.8 519.07 L644.5 518.86 L645.2 519.30 L645.9 519.20 L646.6 518.63 L647.3 518.99 L648.0 519.35 L648.7 519.41 L649.4 519.38 L650.1 519.49 L650.8 519.55 L651.5 519.40 L652.2 519.39 L652.9 519.02 L653.6 518.14 L654.3 518.45 L655.0 519.41 L655.7 518.74 L656.4 519.55 L657.1 519.19 L657.8 518.75 L658.5 519.12 L659.2 518.63 L659.9 518.89 L660.6 518.79 L661.3 519.25 L662.0 518.42 L662.7 519.01 L663.4 518.02 L664.1 519.21 L664.8 519.35 L665.5 519.14 L666.2 518.51 L666.9 518.87 L667.6 519.44 L668.3 518.50 L669.0 519.28 L669.7 519.47 L670.4 519.42 L671.1 518.82 L671.8 519.01 L672.5 519.42 L673.2 519.45 L673.9 519.19 L674.6 519.29 L675.3 519.35 L676.0 519.39 L676.7 518.99 L677.4 519.12 L678.1 519.26 L678.8 519.03 L679.5 518.83 L680.2 518.38 L680.9 519.12 L681.6 518.34 L682.3 519.33 L683.0 518.64 L683.7 519.32 L684.4 519.09 L685.1 519.11 L685.8 519.41 L686.5 519.00 L687.2 518.71 L687.9 518.52 L688.6 518.38 L689.3 519.34 L690.0 519.15 L690.7 519.42 L691.4 519.12 L692.1 519.12 L692.8 518.98 L693.5 519.36 L694.2 519.23 L694.9 519.18 L695.6 519.33 L696.3 517.93 L697.0 518.92 L697.7 518.85 L698.4 519.29 L699.1 518.15 L699.8 518.71 L700.5 518.38 L701.2 519.26 L701.9 519.44 L702.6 518.65 L703.3 519.20 L704.0 519.06 L704.7 519.17 L705.4 519.27 L706.1 518.61 L706.8 519.28 L707.5 518.42 L708.2 519.51 L708.9 518.78 L709.6 518.90 L710.3 519.63 L711.0 519.47 L711.7 519.16 L712.4 519.61 L713.1 518.22 L713.8 519.40 L714.5 519.53 L715.2 519.61 L715.9 519.41 L716.6 518.96 L717.3 519.65 L718.0 519.73 L718.7 519.78 L719.4 519.17 L720.1 519.46 L720.8 519.32 L721.5 518.88 L722.2 519.38 L722.9 519.62 L723.6 518.61 L724.3 519.53 L725.0 519.44 L725.7 519.35 L726.4 519.13 L727.1 518.97 L727.8 519.83 L728.5 519.34 L729.2 519.85 L729.9 519.26 L730.6 518.68 L731.3 519.21 L732.0 519.09 L732.7 518.38 L733.4 518.92 L734.1 518.98 L734.8 519.57 L735.5 519.25 L736.2 519.57 L736.9 519.63 L737.6 519.66 L738.3 519.35 L739.0 519.03 L739.7 519.58 L740.4 519.10 L741.1 519.54 L741.8 519.26 L742.5 519.61 L743.2 519.38 L743.9 519.65 L744.6 519.69 L745.3 519.23 L746.0 518.72 L746.7 519.11 L747.4 518.34 L748.1 519.68 L748.8 519.69 L749.5 518.12 L750.2 519.24 L750.9 518.82 L751.6 519.13 L752.3 519.44 L753.0 519.21 L753.7 519.17 L754.4 519.61 L755.1 519.22 L755.8 519.56 L756.5 518.88 L757.2 519.37 L757.9 519.02 L758.6 519.18 L759.3 519.58 L760.0 519.20 L760.7 519.26 L761.4 519.21 L762.1 519.41 L762.8 519.41 L763.5 519.18 L764.2 519.50 L764.9 519.02 L765.6 519.45 L766.3 519.34 L767.0 519.38 L767.7 519.58 L768.4 519.40 L769.1 519.39 L769.8 519.59 L770.5 519.07 L771.2 519.45 L771.9 519.51 L772.6 518.86 L773.3 518.40 L774.0 519.15 L774.7 518.97 L775.4 519.40 L776.1 519.16 L776.8 519.24 L777.5 519.67 L778.2 519.44 L778.9 519.34 L779.6 518.81 L780.3 519.19 L781.0 519.56 L781.7 519.10 L782.4 519.26 L783.1 519.10 L783.8 519.44 L784.5 518.90 L785.2 518.51 L785.9 519.23 L786.6 519.67 L787.3 519.41 L788.0 519.41 L788.7 519.11 L789.4 519.60 L790.1 519.67 L790.8 519.31 L791.5 519.17 L792.2 519.74 L792.9 519.37 L793.6 519.76 L794.3 519.31 L795.0 519.45 L795.7 519.62 L796.4 519.37 L797.1 519.76 L797.8 519.09 L798.5 519.70 L799.2 518.78 L799.9 519.43 L800.6 519.21 L801.3 519.33 L802.0 519.63 L802.7 519.46 L803.4 519.55 L804.1 519.15 L804.8 519.00 L805.5 519.59 L806.2 518.83 L806.9 519.41 L807.6 519.45 L808.3 518.89 L809.0 519.14 L809.7 519.41 L810.4 519.04 L811.1 518.99 L811.8 519.10 L812.5 519.24 L813.2 519.22 L813.9 519.12 L814.6 519.03 L815.3 519.48 L816.0 518.85 L816.7 519.26 L817.4 518.78 L818.1 518.98 L818.8 519.08 L819.5 518.76 L820.2 518.82 L820.9 518.89 L821.6 518.11 L822.3 519.02 L823.0 518.16 L823.7 518.88 L824.4 518.72 L825.1 518.33 L825.8 519.36 L826.5 519.05 L827.2 518.80 L827.9 518.99 L828.6 519.02 L829.3 519.16 L830.0 518.81 L830.7 518.09 L831.4 519.02 L832.1 518.25 L832.8 519.34 L833.5 519.01 L834.2 518.57 L834.9 518.35 L835.6 519.01 L836.3 519.14 L837.0 519.31 L837.7 519.35 L838.4 518.76 L839.1 518.69 L839.8 518.56 L840.5 518.17 L841.2 519.03 L841.9 518.97 L842.6 519.22 L843.3 519.15 L844.0 519.25 L844.7 519.31 L845.4 519.01 L846.1 518.96 L846.8 519.12 L847.5 518.80 L848.2 519.22 L848.9 518.97 L849.6 518.59 L850.3 519.43 L851.0 517.67 L851.7 518.80 L852.4 518.89 L853.1 519.12 L853.8 518.99 L854.5 518.90 L855.2 518.80 L855.9 518.68 L856.6 518.74 L857.3 518.70 L858.0 518.91 L858.7 518.88 L859.4 519.15 L860.1 518.55 L860.8 519.03 L861.5 519.07 L862.2 519.11 L862.9 519.18 L863.6 518.87 L864.3 519.14 L865.0 519.33 L865.7 519.28 L866.4 519.15 L867.1 519.52 L867.8 518.91 L868.5 519.48 L869.2 519.54 L869.9 519.57 L870.6 519.40 L871.3 519.08 L872.0 519.45 L872.7 519.40 L873.4 519.47 L874.1 519.15 L874.8 519.41 L875.5 518.80 L876.2 519.57 L876.9 519.55 L877.6 519.29 L878.3 519.48 L879.0 519.32 L879.7 518.89 L880.4 519.16 L881.1 519.33 L881.8 519.15 L882.5 519.42 L883.2 519.27 L883.9 519.05 L884.6 518.25 L885.3 519.46 L886.0 518.61 L886.7 519.17 L887.4 518.98 L888.1 518.78 L888.8 519.29 L889.5 518.72 L890.2 518.49 L890.9 519.37 L891.6 519.23 L892.3 518.99 L893.0 519.08 L893.7 518.59 L894.4 518.64 L895.1 518.73 L895.8 519.27 L896.5 518.68 L897.2 518.65 L897.9 518.25 L898.6 518.62 L899.3 518.26 L900.0 519.14 L900.7 518.67 L901.4 519.17 L902.1 518.19 L902.8 518.60 L903.5 519.16 L904.2 518.64 L904.9 518.64 L905.6 519.33 L906.3 518.69 L907.0 519.29 L907.7 518.26 L908.4 519.00 L909.1 519.24 L909.8 519.36 L910.5 518.68 L911.2 518.23 L911.9 519.02 L912.6 519.16 L913.3 518.53 L914.0 518.63 L914.7 518.75 L915.4 518.02 L916.1 518.95 L916.8 519.43 L917.5 519.33 L918.2 519.22 L918.9 519.20 L919.6 518.18 L920.3 519.19 L921.0 519.20 L921.7 519.49 L922.4 519.14 L923.1 519.29 L923.8 518.90 L924.5 519.58 L925.2 518.34 L925.9 519.61 L926.6 518.69 L927.3 519.60 L928.0 518.89 L928.7 519.49 L929.4 518.86 L930.1 518.91 L930.8 519.23 L931.5 519.10 L932.2 519.40 L932.9 519.32 L933.6 519.19 L934.3 519.42 L935.0 518.91 L935.7 519.49 L936.4 518.88 L937.1 518.70 L937.8 518.93 L938.5 519.33 L939.2 519.39 L939.9 519.10 L940.6 518.81 L941.3 519.11 L942.0 519.18 L942.7 519.56 L943.4 519.60 L944.1 518.94 L944.8 519.63 L945.5 519.46 L946.2 519.60 L946.9 518.99 L947.6 519.42 L948.3 519.40 L949.0 519.70 L949.7 519.52 L950.4 519.50 L951.1 519.29 L951.8 519.68 L952.5 518.97 L953.2 519.17 L953.9 519.70 L954.6 518.90 L955.3 518.72 L956.0 519.56 L956.7 519.14 L957.4 518.80 L958.1 518.89 L958.8 519.26 L959.5 519.10 L960.2 519.34 L960.9 518.97 L961.6 518.82 L962.3 518.91 L963.0 519.61 L963.7 519.52 L964.4 518.53 L965.1 519.00 L965.8 519.63 L966.5 518.85 L967.2 519.30 L967.9 519.26 L968.6 519.32 L969.3 518.82 L970.0 519.41 L970.7 518.47 L971.4 518.42 L972.1 519.17 L972.8 519.04 L973.5 519.51 L974.2 519.33 L974.9 519.21 L975.6 518.96 L976.3 518.57 L977.0 519.52 L977.7 519.44 L978.4 519.42 L979.1 519.16 L979.8 518.61 L980.5 518.81 L981.2 519.07 L981.9 519.18 L982.6 518.71 L983.3 519.16 L984.0 519.39 L984.7 519.54 L985.4 518.90 L986.1 519.08 L986.8 519.14 L987.5 518.52 L988.2 519.02 L988.9 519.04 L989.6 518.32 L990.3 518.96 L991.0 519.14 L991.7 519.56 L992.4 519.35 L993.1 519.11 L993.8 519.73 L994.5 518.92 L995.2 519.54 L995.9 519.25 L996.6 519.38 L997.3 519.59 L998.0 519.75 L998.7 519.75 L999.4 519.74 L1000.1 519.23 L1000.8 518.98 L1001.5 519.30 L1002.2 518.95 L1002.9 519.59 L1003.6 519.08 L1004.3 519.48 L1005.0 519.82 L1005.7 519.60 L1006.4 518.73 L1007.1 519.83 L1007.8 519.64 L1008.5 518.87 L1009.2 519.77 L1009.9 519.45 L1010.6 519.77 L1011.3 519.05 L1012.0 519.79 L1012.7 519.54 L1013.4 519.33 L1014.1 519.69 L1014.8 518.59 L1015.5 519.35 L1016.2 519.47 L1016.9 518.68 L1017.6 519.55 L1018.3 519.44 L1019.0 519.41 L1019.7 519.77 L1020.4 519.49 L1021.1 519.62 L1021.8 519.30 L1022.5 519.42 L1023.2 519.44 L1023.9 519.66 L1024.6 519.45 L1025.3 519.15 L1026.0 519.28 L1026.7 519.70 L1027.4 519.32 L1028.1 519.32 L1028.8 518.88 L1029.5 519.14 L1030.2 518.98 L1030.9 519.47 L1031.6 519.49 L1032.3 519.39 L1033.0 519.31 L1033.7 518.16 L1034.4 519.15 L1035.1 519.37 L1035.8 519.06 L1036.5 518.97 L1037.2 519.35 L1037.9 518.65 L1038.6 519.14 L1039.3 518.93 L1040.0 518.47 L1040.7 518.60 L1041.4 519.08 L1042.1 519.32 L1042.8 519.30 L1043.5 518.35 L1044.2 518.79 L1044.9 519.17 L1045.6 518.95 L1046.3 518.51 L1047.0 519.17 L1047.7 519.08 L1048.4 519.20 L1049.1 519.36 L1049.8 518.91 L1050.5 519.26 L1051.2 518.99 L1051.9 519.40 L1052.6 519.21 L1053.3 518.78 L1054.0 518.51 L1054.7 519.37 L1055.4 518.90 L1056.1 519.25 L1056.8 519.40 L1057.5 519.04 L1058.2 518.97 L1058.9 519.26 L1059.6 519.46 L1060.3 519.41 L1061.0 518.49 L1061.7 519.36 L1062.4 519.30 L1063.1 518.94 L1063.8 519.35 L1064.5 519.31 L1065.2 519.40 L1065.9 518.51 L1066.6 519.16 L1067.3 518.77 L1068.0 518.70 L1068.7 519.45 L1069.4 519.33 L1070.1 518.77 L1070.8 518.69 L1071.5 519.57 L1072.2 518.90 L1072.9 519.18 L1073.6 519.05 L1074.3 518.04 L1075.0 518.17 L1075.7 519.49 L1076.4 519.42 L1077.1 519.25 L1077.8 519.56 L1078.5 519.09 L1079.2 519.42 L1079.9 519.15 L1080.6 519.61 L1081.3 519.39 L1082.0 519.45 L1082.7 518.62 L1083.4 518.59 L1084.1 518.63 L1084.8 519.23 L1085.5 519.33 L1086.2 518.31 L1086.9 519.30 L1087.6 518.79 L1088.3 519.35 L1089.0 519.55 L1089.7 519.11 L1090.4 519.24 L1091.1 519.21 L1091.8 519.10 L1092.5 518.93 L1093.2 519.18 L1093.9 519.18 L1094.6 519.19 L1095.3 518.68 L1096.0 519.29 L1096.7 519.02 L1097.4 518.83 L1098.1 519.13 L1098.8 519.36 L1099.5 519.02 L1100.2 518.98 L1100.9 519.43 L1101.6 519.44 L1102.3 519.18 L1103.0 519.33 L1103.7 518.81 L1104.4 519.28 L1105.1 519.04 L1105.8 519.36 L1106.5 518.75 L1107.2 519.35 L1107.9 518.46 L1108.6 519.33 L1109.3 519.31 L1110.0 519.31 L1110.7 518.35 L1111.4 518.09 L1112.1 518.93 L1112.8 519.31 L1113.5 519.31 L1114.2 518.82 L1114.9 518.21 L1115.6 518.60 L1116.3 519.19 L1117.0 519.05 L1117.7 518.46 L1118.4 518.61 L1119.1 518.43 L1119.8 518.93 L1120.5 519.16 L1121.2 518.77 L1121.9 519.32 L1122.6 518.82 L1123.3 519.25 L1124.0 519.30 L1124.7 518.84 L1125.4 519.23 L1126.1 519.35 L1126.8 518.39 L1127.5 519.37 L1128.2 517.99 L1128.9 519.25 L1129.6 519.28 L1130.3 519.11 L1131.0 518.96 L1131.7 519.06 L1132.4 518.87 L1133.1 518.68 L1133.8 518.73 L1134.5 519.12 L1135.2 518.56 L1135.9 518.78 L1136.6 519.21 L1137.3 518.79 L1138.0 519.35 L1138.7 518.17 L1139.4 518.79 L1140.1 519.18 L1140.8 518.63 L1141.5 519.55 L1142.2 519.47 L1142.9 519.05 L1143.6 519.52 L1144.3 519.39 L1145.0 519.11 L1145.7 519.55 L1146.4 519.57 L1147.1 519.02 L1147.8 519.16 L1148.5 519.55 L1149.2 519.11 L1149.9 519.38 L1150.6 519.33 L1151.3 518.50 L1152.0 519.47 L1152.7 519.68 L1153.4 519.46 L1154.1 519.45 L1154.8 519.15 L1155.5 519.41 L1156.2 519.21 L1156.9 519.65 L1157.6 519.31 L1158.3 518.68 L1159.0 519.37 L1159.7 519.42 L1160.4 519.05 L1161.1 519.25 L1161.8 519.32 L1162.5 519.54 L1163.2 519.32 L1163.9 519.59 L1164.6 519.69 L1165.3 519.03 L1166.0 519.41 L1166.7 518.73 L1167.4 519.53 L1168.1 519.38 L1168.8 519.40 L1169.5 518.56 L1170.2 518.96 L1170.9 519.62 L1171.6 519.09 L1172.3 519.62 L1173.0 518.52 L1173.7 519.19 L1174.4 518.99 L1175.1 518.82 L1175.8 518.62 L1176.5 519.43 L1177.2 519.17 L1177.9 519.52 L1178.6 519.01 L1179.3 518.89 L1180.0 519.24 L1180.7 519.48 L1181.4 519.23 L1182.1 519.40 L1182.8 519.38 L1183.5 519.25 L1184.2 518.10 L1184.9 519.13 L1185.6 519.23 L1186.3 519.50 L1187.0 519.54 L1187.7 518.39 L1188.4 518.86 L1189.1 519.02 L1189.8 519.45 L1190.5 519.46 L1191.2 518.96 L1191.9 519.27 L1192.6 518.92 L1193.3 519.35 L1194.0 519.42 L1194.7 519.54 L1195.4 519.06 L1196.1 519.25 L1196.8 519.28 L1197.5 519.24 L1198.2 519.03 L1198.9 519.24 L1199.6 519.46 L1200.3 518.70 L1201.0 519.56 L1201.7 519.23 L1202.4 518.90 L1203.1 519.11 L1203.8 519.67 L1204.5 519.26 L1205.2 518.81 L1205.9 519.11 L1206.6 519.14 L1207.3 519.18 L1208.0 519.17 L1208.7 519.62 L1209.4 519.64 L1210.1 519.34 L1210.8 519.71 L1211.5 519.64 L1212.2 519.29 L1212.9 519.48 L1213.6 519.59 L1214.3 519.41 L1215.0 519.78 L1215.7 519.67 L1216.4 519.39 L1217.1 519.72 L1217.8 519.10 L1218.5 518.59 L1219.2 518.99 L1219.9 519.44 L1220.6 519.44 L1221.3 519.70 L1222.0 519.20 L1222.7 519.67 L1223.4 519.80 L1224.1 519.21 L1224.8 519.03 L1225.5 519.32 L1226.2 519.62 L1226.9 519.11 L1227.6 519.19 L1228.3 519.68 L1229.0 519.79 L1229.7 519.44 L1230.4 519.09 L1231.1 519.67 L1231.8 519.44 L1232.5 519.51 L1233.2 519.65 L1233.9 519.52 L1234.6 519.55 L1235.3 519.65 L1236.0 519.44 L1236.7 519.53 L1237.4 519.42 L1238.1 519.69 L1238.8 519.24 L1239.5 519.63 L1240.2 518.99 L1240.9 519.06 L1241.6 518.97 L1242.3 519.42 L1243.0 519.30 L1243.7 518.93 L1244.4 519.69 L1245.1 519.24 L1245.8 519.37 L1246.5 519.32 L1247.2 519.13 L1247.9 519.46 L1248.6 519.62 L1249.3 518.52 L1250.0 519.50 L1250.7 519.33 L1251.4 519.47 L1252.1 519.26 L1252.8 518.27 L1253.5 518.87 L1254.2 519.31 L1254.9 519.40 L1255.6 518.71 L1256.3 518.77 L1257.0 519.52 L1257.7 519.34 L1258.4 518.84 L1258.4 527.70 L1257.7 527.75 L1257.0 527.27 L1256.3 527.23 L1255.6 527.38 L1254.9 527.69 L1254.2 527.64 L1253.5 527.52 L1252.8 528.11 L1252.1 527.51 L1251.4 527.30 L1250.7 527.38 L1250.0 528.22 L1249.3 528.60 L1248.6 528.52 L1247.9 527.36 L1247.2 528.13 L1246.5 527.80 L1245.8 527.35 L1245.1 528.38 L1244.4 527.84 L1243.7 527.57 L1243.0 527.40 L1242.3 527.43 L1241.6 527.89 L1240.9 527.55 L1240.2 527.56 L1239.5 528.17 L1238.8 527.66 L1238.1 527.92 L1237.4 527.46 L1236.7 528.77 L1236.0 527.49 L1235.3 527.80 L1234.6 527.59 L1233.9 527.88 L1233.2 528.13 L1232.5 527.83 L1231.8 527.47 L1231.1 527.73 L1230.4 527.71 L1229.7 527.64 L1229.0 527.60 L1228.3 527.93 L1227.6 527.91 L1226.9 528.02 L1226.2 527.84 L1225.5 527.98 L1224.8 527.54 L1224.1 528.24 L1223.4 529.42 L1222.7 528.12 L1222.0 528.06 L1221.3 528.32 L1220.6 527.59 L1219.9 527.64 L1219.2 527.70 L1218.5 527.93 L1217.8 527.81 L1217.1 527.98 L1216.4 527.59 L1215.7 527.86 L1215.0 527.57 L1214.3 527.47 L1213.6 527.95 L1212.9 528.18 L1212.2 528.42 L1211.5 527.44 L1210.8 527.53 L1210.1 527.82 L1209.4 527.62 L1208.7 527.99 L1208.0 527.51 L1207.3 527.94 L1206.6 527.35 L1205.9 527.67 L1205.2 527.75 L1204.5 527.89 L1203.8 529.05 L1203.1 528.18 L1202.4 527.70 L1201.7 527.61 L1201.0 527.71 L1200.3 529.05 L1199.6 527.34 L1198.9 527.34 L1198.2 527.31 L1197.5 527.36 L1196.8 527.73 L1196.1 527.29 L1195.4 528.43 L1194.7 527.96 L1194.0 527.34 L1193.3 527.48 L1192.6 527.90 L1191.9 527.73 L1191.2 528.13 L1190.5 527.68 L1189.8 527.47 L1189.1 527.28 L1188.4 527.52 L1187.7 527.16 L1187.0 527.61 L1186.3 527.18 L1185.6 527.59 L1184.9 527.77 L1184.2 527.24 L1183.5 527.34 L1182.8 527.93 L1182.1 528.23 L1181.4 527.54 L1180.7 527.42 L1180.0 527.55 L1179.3 527.48 L1178.6 527.47 L1177.9 527.96 L1177.2 527.97 L1176.5 527.52 L1175.8 527.90 L1175.1 527.21 L1174.4 527.35 L1173.7 527.93 L1173.0 528.39 L1172.3 527.33 L1171.6 527.31 L1170.9 527.76 L1170.2 527.99 L1169.5 527.95 L1168.8 528.21 L1168.1 527.63 L1167.4 527.80 L1166.7 527.93 L1166.0 528.41 L1165.3 527.57 L1164.6 527.30 L1163.9 527.38 L1163.2 528.26 L1162.5 527.77 L1161.8 527.56 L1161.1 527.77 L1160.4 528.47 L1159.7 527.45 L1159.0 527.85 L1158.3 527.53 L1157.6 529.07 L1156.9 528.10 L1156.2 527.94 L1155.5 527.83 L1154.8 527.50 L1154.1 527.56 L1153.4 527.39 L1152.7 527.82 L1152.0 527.58 L1151.3 527.61 L1150.6 527.56 L1149.9 528.12 L1149.2 528.63 L1148.5 527.74 L1147.8 527.85 L1147.1 527.41 L1146.4 527.42 L1145.7 527.69 L1145.0 528.33 L1144.3 527.51 L1143.6 527.31 L1142.9 527.29 L1142.2 527.51 L1141.5 529.22 L1140.8 527.76 L1140.1 527.28 L1139.4 527.18 L1138.7 527.31 L1138.0 528.01 L1137.3 527.64 L1136.6 527.16 L1135.9 527.78 L1135.2 527.33 L1134.5 527.75 L1133.8 527.26 L1133.1 527.61 L1132.4 527.18 L1131.7 527.83 L1131.0 527.76 L1130.3 527.28 L1129.6 527.21 L1128.9 527.17 L1128.2 527.13 L1127.5 527.58 L1126.8 527.67 L1126.1 527.24 L1125.4 527.35 L1124.7 527.99 L1124.0 527.20 L1123.3 526.94 L1122.6 527.57 L1121.9 527.22 L1121.2 528.46 L1120.5 527.39 L1119.8 527.53 L1119.1 527.42 L1118.4 527.57 L1117.7 527.01 L1117.0 527.15 L1116.3 527.74 L1115.6 527.13 L1114.9 526.97 L1114.2 527.25 L1113.5 526.97 L1112.8 527.56 L1112.1 527.12 L1111.4 526.93 L1110.7 527.13 L1110.0 527.07 L1109.3 526.96 L1108.6 527.35 L1107.9 527.20 L1107.2 527.32 L1106.5 527.55 L1105.8 528.37 L1105.1 527.10 L1104.4 527.32 L1103.7 527.10 L1103.0 528.09 L1102.3 527.59 L1101.6 527.13 L1100.9 527.20 L1100.2 527.47 L1099.5 527.57 L1098.8 527.43 L1098.1 527.75 L1097.4 528.27 L1096.7 527.32 L1096.0 527.26 L1095.3 527.67 L1094.6 527.14 L1093.9 527.32 L1093.2 528.26 L1092.5 527.60 L1091.8 527.20 L1091.1 527.43 L1090.4 528.35 L1089.7 527.28 L1089.0 527.48 L1088.3 527.68 L1087.6 527.29 L1086.9 528.52 L1086.2 527.64 L1085.5 528.70 L1084.8 527.28 L1084.1 527.94 L1083.4 527.98 L1082.7 527.57 L1082.0 527.54 L1081.3 528.77 L1080.6 528.46 L1079.9 528.21 L1079.2 527.39 L1078.5 527.37 L1077.8 527.71 L1077.1 527.79 L1076.4 528.28 L1075.7 527.70 L1075.0 527.21 L1074.3 528.61 L1073.6 527.37 L1072.9 528.07 L1072.2 527.42 L1071.5 527.99 L1070.8 527.69 L1070.1 527.29 L1069.4 527.78 L1068.7 527.43 L1068.0 528.23 L1067.3 527.43 L1066.6 527.40 L1065.9 527.73 L1065.2 528.55 L1064.5 527.37 L1063.8 528.47 L1063.1 527.55 L1062.4 528.16 L1061.7 527.53 L1061.0 527.19 L1060.3 527.31 L1059.6 528.15 L1058.9 527.14 L1058.2 527.74 L1057.5 527.22 L1056.8 527.26 L1056.1 527.49 L1055.4 528.21 L1054.7 527.44 L1054.0 527.21 L1053.3 527.41 L1052.6 528.08 L1051.9 527.69 L1051.2 527.19 L1050.5 527.19 L1049.8 527.53 L1049.1 527.23 L1048.4 527.95 L1047.7 528.02 L1047.0 527.40 L1046.3 527.18 L1045.6 527.32 L1044.9 527.30 L1044.2 527.38 L1043.5 527.13 L1042.8 527.69 L1042.1 527.61 L1041.4 527.32 L1040.7 527.36 L1040.0 527.48 L1039.3 527.41 L1038.6 527.59 L1037.9 527.94 L1037.2 527.76 L1036.5 527.34 L1035.8 527.71 L1035.1 528.34 L1034.4 527.91 L1033.7 527.28 L1033.0 527.73 L1032.3 527.57 L1031.6 527.39 L1030.9 527.33 L1030.2 527.62 L1029.5 527.30 L1028.8 528.04 L1028.1 527.84 L1027.4 527.49 L1026.7 527.34 L1026.0 528.19 L1025.3 527.55 L1024.6 527.54 L1023.9 527.40 L1023.2 528.03 L1022.5 527.85 L1021.8 527.90 L1021.1 527.51 L1020.4 527.68 L1019.7 527.48 L1019.0 527.84 L1018.3 527.65 L1017.6 527.76 L1016.9 527.65 L1016.2 528.09 L1015.5 528.39 L1014.8 527.52 L1014.1 527.46 L1013.4 527.65 L1012.7 527.78 L1012.0 528.30 L1011.3 528.34 L1010.6 528.18 L1009.9 528.01 L1009.2 527.50 L1008.5 527.95 L1007.8 528.58 L1007.1 528.17 L1006.4 527.70 L1005.7 527.82 L1005.0 527.97 L1004.3 528.38 L1003.6 528.15 L1002.9 528.02 L1002.2 527.50 L1001.5 527.88 L1000.8 528.21 L1000.1 527.70 L999.4 528.03 L998.7 527.53 L998.0 527.88 L997.3 528.05 L996.6 528.15 L995.9 527.78 L995.2 527.77 L994.5 528.17 L993.8 528.43 L993.1 528.38 L992.4 527.70 L991.7 527.34 L991.0 527.33 L990.3 529.06 L989.6 527.40 L988.9 528.59 L988.2 527.80 L987.5 527.49 L986.8 528.00 L986.1 528.41 L985.4 528.02 L984.7 527.24 L984.0 527.49 L983.3 528.36 L982.6 527.51 L981.9 527.41 L981.2 527.84 L980.5 527.61 L979.8 527.53 L979.1 527.47 L978.4 527.46 L977.7 528.03 L977.0 527.39 L976.3 527.68 L975.6 527.87 L974.9 527.42 L974.2 527.37 L973.5 527.26 L972.8 527.23 L972.1 528.22 L971.4 528.51 L970.7 527.20 L970.0 527.35 L969.3 527.36 L968.6 527.63 L967.9 527.64 L967.2 527.27 L966.5 527.41 L965.8 527.30 L965.1 527.26 L964.4 527.27 L963.7 527.40 L963.0 527.94 L962.3 528.68 L961.6 527.82 L960.9 527.38 L960.2 527.94 L959.5 527.94 L958.8 527.62 L958.1 527.86 L957.4 527.89 L956.7 527.75 L956.0 527.44 L955.3 527.95 L954.6 527.98 L953.9 528.25 L953.2 527.55 L952.5 527.47 L951.8 527.91 L951.1 528.23 L950.4 527.38 L949.7 528.06 L949.0 527.82 L948.3 528.11 L947.6 527.74 L946.9 528.01 L946.2 528.69 L945.5 527.71 L944.8 527.58 L944.1 528.45 L943.4 528.11 L942.7 528.81 L942.0 528.59 L941.3 527.63 L940.6 527.98 L939.9 528.01 L939.2 528.92 L938.5 527.90 L937.8 528.38 L937.1 528.28 L936.4 527.59 L935.7 527.54 L935.0 527.44 L934.3 527.55 L933.6 527.84 L932.9 527.69 L932.2 528.14 L931.5 527.71 L930.8 527.38 L930.1 527.34 L929.4 527.55 L928.7 527.99 L928.0 527.66 L927.3 527.57 L926.6 527.72 L925.9 527.32 L925.2 528.32 L924.5 527.47 L923.8 527.49 L923.1 527.39 L922.4 527.32 L921.7 527.70 L921.0 528.43 L920.3 528.28 L919.6 527.50 L918.9 527.35 L918.2 527.48 L917.5 527.37 L916.8 527.85 L916.1 528.33 L915.4 527.50 L914.7 527.25 L914.0 528.60 L913.3 528.24 L912.6 527.28 L911.9 527.33 L911.2 527.22 L910.5 528.98 L909.8 527.22 L909.1 527.54 L908.4 527.12 L907.7 527.59 L907.0 527.40 L906.3 527.43 L905.6 527.29 L904.9 527.51 L904.2 527.09 L903.5 528.12 L902.8 527.53 L902.1 527.16 L901.4 527.63 L900.7 527.18 L900.0 527.69 L899.3 527.86 L898.6 527.64 L897.9 527.40 L897.2 527.55 L896.5 527.98 L895.8 527.17 L895.1 527.40 L894.4 527.22 L893.7 527.75 L893.0 527.53 L892.3 527.58 L891.6 527.07 L890.9 529.08 L890.2 527.10 L889.5 527.55 L888.8 527.54 L888.1 527.40 L887.4 527.52 L886.7 527.27 L886.0 527.40 L885.3 527.13 L884.6 527.71 L883.9 527.62 L883.2 527.44 L882.5 527.60 L881.8 527.47 L881.1 527.63 L880.4 527.99 L879.7 527.34 L879.0 527.41 L878.3 527.44 L877.6 528.48 L876.9 527.52 L876.2 528.05 L875.5 527.58 L874.8 527.31 L874.1 527.60 L873.4 527.27 L872.7 527.36 L872.0 527.73 L871.3 527.29 L870.6 527.45 L869.9 527.50 L869.2 527.51 L868.5 527.73 L867.8 527.43 L867.1 527.43 L866.4 527.32 L865.7 528.28 L865.0 527.24 L864.3 527.45 L863.6 527.65 L862.9 527.52 L862.2 527.61 L861.5 527.65 L860.8 527.40 L860.1 528.33 L859.4 528.11 L858.7 527.36 L858.0 527.47 L857.3 528.07 L856.6 527.39 L855.9 527.83 L855.2 528.50 L854.5 527.12 L853.8 527.47 L853.1 527.33 L852.4 527.94 L851.7 528.27 L851.0 528.14 L850.3 528.15 L849.6 527.54 L848.9 527.25 L848.2 527.03 L847.5 527.39 L846.8 528.11 L846.1 527.12 L845.4 527.44 L844.7 527.06 L844.0 527.37 L843.3 527.04 L842.6 528.52 L841.9 527.29 L841.2 527.34 L840.5 527.53 L839.8 527.60 L839.1 527.16 L838.4 527.64 L837.7 527.30 L837.0 527.00 L836.3 527.50 L835.6 527.06 L834.9 527.05 L834.2 527.67 L833.5 527.06 L832.8 527.34 L832.1 527.63 L831.4 527.05 L830.7 527.19 L830.0 527.45 L829.3 527.19 L828.6 527.73 L827.9 527.06 L827.2 527.15 L826.5 527.95 L825.8 527.29 L825.1 527.25 L824.4 527.74 L823.7 527.48 L823.0 527.39 L822.3 527.15 L821.6 527.70 L820.9 528.49 L820.2 527.47 L819.5 527.27 L818.8 527.45 L818.1 527.58 L817.4 527.48 L816.7 527.23 L816.0 527.31 L815.3 527.55 L814.6 527.24 L813.9 527.38 L813.2 527.55 L812.5 527.61 L811.8 527.55 L811.1 527.66 L810.4 528.47 L809.7 527.69 L809.0 527.55 L808.3 527.64 L807.6 527.54 L806.9 527.78 L806.2 527.96 L805.5 527.41 L804.8 527.88 L804.1 527.48 L803.4 527.86 L802.7 528.34 L802.0 527.65 L801.3 527.62 L800.6 527.51 L799.9 527.86 L799.2 528.35 L798.5 527.74 L797.8 528.23 L797.1 527.83 L796.4 527.47 L795.7 528.40 L795.0 527.61 L794.3 527.86 L793.6 528.36 L792.9 527.76 L792.2 527.81 L791.5 528.27 L790.8 527.45 L790.1 527.46 L789.4 528.20 L788.7 528.38 L788.0 527.85 L787.3 527.42 L786.6 527.67 L785.9 528.25 L785.2 527.50 L784.5 527.36 L783.8 527.45 L783.1 527.52 L782.4 527.44 L781.7 527.78 L781.0 527.54 L780.3 528.08 L779.6 528.11 L778.9 527.97 L778.2 527.73 L777.5 527.49 L776.8 527.51 L776.1 527.37 L775.4 527.34 L774.7 527.92 L774.0 528.19 L773.3 527.64 L772.6 527.57 L771.9 527.51 L771.2 527.44 L770.5 527.34 L769.8 527.31 L769.1 527.71 L768.4 527.50 L767.7 527.55 L767.0 527.53 L766.3 527.33 L765.6 527.90 L764.9 527.50 L764.2 527.36 L763.5 528.48 L762.8 527.87 L762.1 527.29 L761.4 527.82 L760.7 527.24 L760.0 527.73 L759.3 527.23 L758.6 527.30 L757.9 527.94 L757.2 527.65 L756.5 527.57 L755.8 527.70 L755.1 528.98 L754.4 527.56 L753.7 527.51 L753.0 527.96 L752.3 527.75 L751.6 527.40 L750.9 528.15 L750.2 527.56 L749.5 527.30 L748.8 527.81 L748.1 527.59 L747.4 527.39 L746.7 527.78 L746.0 527.87 L745.3 528.22 L744.6 527.84 L743.9 527.73 L743.2 527.90 L742.5 528.89 L741.8 527.66 L741.1 527.45 L740.4 527.55 L739.7 527.86 L739.0 528.41 L738.3 527.71 L737.6 527.79 L736.9 528.36 L736.2 527.77 L735.5 528.01 L734.8 527.70 L734.1 527.57 L733.4 527.63 L732.7 528.15 L732.0 527.47 L731.3 527.48 L730.6 527.97 L729.9 528.05 L729.2 527.49 L728.5 528.04 L727.8 527.55 L727.1 528.34 L726.4 527.49 L725.7 528.29 L725.0 528.26 L724.3 528.05 L723.6 527.45 L722.9 527.63 L722.2 527.67 L721.5 527.60 L720.8 527.67 L720.1 527.62 L719.4 528.72 L718.7 527.73 L718.0 527.43 L717.3 527.39 L716.6 527.64 L715.9 528.39 L715.2 528.42 L714.5 527.90 L713.8 527.33 L713.1 527.46 L712.4 527.45 L711.7 527.86 L711.0 527.90 L710.3 527.44 L709.6 528.10 L708.9 528.16 L708.2 527.54 L707.5 527.42 L706.8 527.42 L706.1 527.42 L705.4 528.43 L704.7 527.59 L704.0 527.52 L703.3 527.71 L702.6 527.84 L701.9 527.88 L701.2 527.59 L700.5 527.21 L699.8 527.80 L699.1 527.66 L698.4 527.20 L697.7 527.49 L697.0 527.53 L696.3 527.53 L695.6 527.55 L694.9 527.59 L694.2 527.24 L693.5 527.62 L692.8 527.62 L692.1 527.20 L691.4 527.13 L690.7 527.13 L690.0 527.52 L689.3 527.16 L688.6 527.24 L687.9 528.12 L687.2 527.19 L686.5 527.98 L685.8 527.06 L685.1 527.53 L684.4 527.61 L683.7 527.70 L683.0 527.33 L682.3 528.16 L681.6 527.08 L680.9 527.12 L680.2 527.16 L679.5 527.92 L678.8 527.34 L678.1 527.22 L677.4 527.58 L676.7 527.21 L676.0 527.22 L675.3 527.32 L674.6 527.83 L673.9 527.94 L673.2 527.32 L672.5 527.76 L671.8 527.37 L671.1 527.87 L670.4 527.44 L669.7 527.70 L669.0 527.35 L668.3 527.57 L667.6 527.44 L666.9 527.66 L666.2 527.54 L665.5 527.41 L664.8 527.42 L664.1 527.36 L663.4 527.37 L662.7 527.77 L662.0 527.91 L661.3 527.39 L660.6 527.58 L659.9 527.81 L659.2 528.14 L658.5 528.46 L657.8 527.23 L657.1 527.86 L656.4 527.22 L655.7 527.47 L655.0 527.40 L654.3 527.93 L653.6 527.27 L652.9 527.27 L652.2 527.25 L651.5 528.21 L650.8 527.36 L650.1 527.35 L649.4 527.39 L648.7 527.23 L648.0 527.41 L647.3 528.89 L646.6 528.30 L645.9 527.36 L645.2 527.32 L644.5 527.61 L643.8 527.25 L643.1 527.58 L642.4 528.12 L641.7 527.23 L641.0 527.86 L640.3 527.47 L639.6 527.08 L638.9 527.35 L638.2 527.24 L637.5 527.05 L636.8 527.05 L636.1 527.27 L635.4 527.68 L634.7 527.26 L634.0 527.07 L633.3 527.64 L632.6 527.61 L631.9 527.03 L631.2 527.56 L630.5 527.17 L629.8 527.19 L629.1 527.25 L628.4 527.04 L627.7 527.33 L627.0 526.96 L626.3 527.23 L625.6 527.25 L624.9 527.23 L624.2 527.41Z" fill="#1661a1"/>
</svg></body></html>
